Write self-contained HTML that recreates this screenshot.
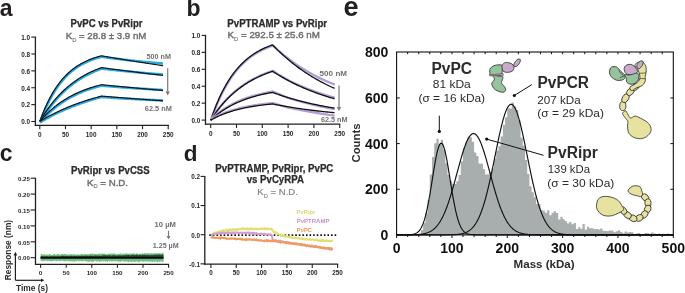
<!DOCTYPE html>
<html><head><meta charset="utf-8"><style>
html,body{margin:0;padding:0;background:#fff;}
svg{display:block;will-change:transform;font-family:"Liberation Sans", sans-serif;}
</style></head><body>
<svg width="685" height="293" viewBox="0 0 685 293">
<rect width="685" height="293" fill="#fff"/>
<text x="-0.3" y="15.6" font-size="23" font-weight="bold" fill="#231f20">a</text>
<text x="70.5" y="26.9" font-size="10.0" font-weight="bold" fill="#2b2b2b" textLength="72" lengthAdjust="spacingAndGlyphs" stroke="#2b2b2b" stroke-width="0.25">PvPC vs PvRipr</text>
<text x="65.7" y="39.1" font-size="9.7" fill="#6e6e6e" stroke="#6e6e6e" stroke-width="0.42" textLength="80.6" lengthAdjust="spacingAndGlyphs">K<tspan font-size="5.82" stroke-width="0.1" dy="2.9">D</tspan><tspan dy="-2.9"> = 28.8 ± 3.9 nM</tspan></text>
<line x1="35.40" y1="36.60" x2="35.40" y2="125.90" stroke="#231f20" stroke-width="1.3"/>
<line x1="31.30" y1="121.50" x2="35.40" y2="121.50" stroke="#231f20" stroke-width="1.1"/>
<text x="30.1" y="124.3" font-size="6.4" font-weight="bold" fill="#231f20" text-anchor="end">0.0</text>
<line x1="31.30" y1="104.62" x2="35.40" y2="104.62" stroke="#231f20" stroke-width="1.1"/>
<text x="30.1" y="107.42" font-size="6.4" font-weight="bold" fill="#231f20" text-anchor="end">0.2</text>
<line x1="31.30" y1="87.74" x2="35.40" y2="87.74" stroke="#231f20" stroke-width="1.1"/>
<text x="30.1" y="90.53999999999999" font-size="6.4" font-weight="bold" fill="#231f20" text-anchor="end">0.4</text>
<line x1="31.30" y1="70.86" x2="35.40" y2="70.86" stroke="#231f20" stroke-width="1.1"/>
<text x="30.1" y="73.65999999999998" font-size="6.4" font-weight="bold" fill="#231f20" text-anchor="end">0.6</text>
<line x1="31.30" y1="53.98" x2="35.40" y2="53.98" stroke="#231f20" stroke-width="1.1"/>
<text x="30.1" y="56.77999999999999" font-size="6.4" font-weight="bold" fill="#231f20" text-anchor="end">0.8</text>
<line x1="31.30" y1="37.10" x2="35.40" y2="37.10" stroke="#231f20" stroke-width="1.1"/>
<text x="30.1" y="39.89999999999999" font-size="6.4" font-weight="bold" fill="#231f20" text-anchor="end">1.0</text>
<line x1="34.80" y1="125.30" x2="169.00" y2="125.30" stroke="#231f20" stroke-width="1.3"/>
<line x1="39.80" y1="125.30" x2="39.80" y2="129.20" stroke="#231f20" stroke-width="1.1"/>
<text x="39.8" y="136.7" font-size="6.4" font-weight="bold" fill="#231f20" text-anchor="middle">0</text>
<line x1="65.48" y1="125.30" x2="65.48" y2="129.20" stroke="#231f20" stroke-width="1.1"/>
<text x="65.48" y="136.7" font-size="6.4" font-weight="bold" fill="#231f20" text-anchor="middle">50</text>
<line x1="91.16" y1="125.30" x2="91.16" y2="129.20" stroke="#231f20" stroke-width="1.1"/>
<text x="91.16" y="136.7" font-size="6.4" font-weight="bold" fill="#231f20" text-anchor="middle">100</text>
<line x1="116.84" y1="125.30" x2="116.84" y2="129.20" stroke="#231f20" stroke-width="1.1"/>
<text x="116.84" y="136.7" font-size="6.4" font-weight="bold" fill="#231f20" text-anchor="middle">150</text>
<line x1="142.52" y1="125.30" x2="142.52" y2="129.20" stroke="#231f20" stroke-width="1.1"/>
<text x="142.52" y="136.7" font-size="6.4" font-weight="bold" fill="#231f20" text-anchor="middle">200</text>
<line x1="168.20" y1="125.30" x2="168.20" y2="129.20" stroke="#231f20" stroke-width="1.1"/>
<text x="168.2" y="136.7" font-size="6.4" font-weight="bold" fill="#231f20" text-anchor="middle">250</text>
<path d="M40.10,122.35 L41.13,119.52 L42.15,116.80 L43.18,114.19 L44.21,111.68 L45.24,109.27 L46.26,106.95 L47.29,104.73 L48.32,102.59 L49.34,100.53 L50.37,98.56 L51.40,96.66 L52.43,94.84 L53.45,93.09 L54.48,91.41 L55.51,89.79 L56.54,88.24 L57.56,86.74 L58.59,85.31 L59.62,83.93 L60.64,82.61 L61.67,81.34 L62.70,80.12 L63.73,78.94 L64.75,77.82 L65.78,76.73 L66.81,75.69 L67.83,74.69 L68.86,73.73 L69.89,72.81 L70.92,71.92 L71.94,71.07 L72.97,70.25 L74.00,69.46 L75.02,68.71 L76.05,67.98 L77.08,67.28 L78.11,66.61 L79.13,65.97 L80.16,65.35 L81.19,64.75 L82.22,64.18 L83.24,63.63 L84.27,63.11 L85.30,62.60 L86.32,62.11 L87.35,61.64 L88.38,61.20 L89.41,60.76 L90.43,60.35 L91.46,59.95 L92.49,59.57 L93.51,59.20 L94.54,58.85 L95.57,58.51 L96.60,58.18 L97.62,57.87 L98.65,57.56 L99.68,57.28 L100.70,57.00 L101.73,56.73 L102.46,56.89 L103.49,57.05 L104.51,57.20 L105.54,57.35 L106.57,57.50 L107.60,57.64 L108.62,57.78 L109.65,57.92 L110.68,58.06 L111.70,58.20 L112.73,58.33 L113.76,58.46 L114.79,58.59 L115.81,58.72 L116.84,58.85 L117.87,58.98 L118.89,59.10 L119.92,59.23 L120.95,59.35 L121.98,59.47 L123.00,59.59 L124.03,59.71 L125.06,59.83 L126.08,59.95 L127.11,60.06 L128.14,60.18 L129.17,60.29 L130.19,60.41 L131.22,60.52 L132.25,60.63 L133.28,60.74 L134.30,60.85 L135.33,60.95 L136.36,61.06 L137.38,61.17 L138.41,61.27 L139.44,61.37 L140.47,61.48 L141.49,61.58 L142.52,61.68 L143.55,61.78 L144.57,61.88 L145.60,61.98 L146.63,62.08 L147.66,62.17 L148.68,62.27 L149.71,62.36 L150.74,62.46 L151.76,62.55 L152.79,62.64 L153.82,62.74 L154.85,62.83 L155.87,62.92 L156.90,63.01 L157.93,63.09 L158.96,63.18 L159.98,63.27 L161.01,63.35 L162.04,63.44 L163.06,63.52" fill="none" stroke="#27aae1" stroke-width="2.5" stroke-linejoin="round"/>
<path d="M39.80,121.40 L40.83,118.57 L41.85,115.85 L42.88,113.24 L43.91,110.73 L44.94,108.32 L45.96,106.00 L46.99,103.78 L48.02,101.64 L49.04,99.58 L50.07,97.61 L51.10,95.71 L52.13,93.89 L53.15,92.14 L54.18,90.46 L55.21,88.84 L56.24,87.29 L57.26,85.79 L58.29,84.36 L59.32,82.98 L60.34,81.66 L61.37,80.39 L62.40,79.17 L63.43,77.99 L64.45,76.87 L65.48,75.78 L66.51,74.74 L67.53,73.74 L68.56,72.78 L69.59,71.86 L70.62,70.97 L71.64,70.12 L72.67,69.30 L73.70,68.51 L74.72,67.76 L75.75,67.03 L76.78,66.33 L77.81,65.66 L78.83,65.02 L79.86,64.40 L80.89,63.80 L81.92,63.23 L82.94,62.68 L83.97,62.16 L85.00,61.65 L86.02,61.16 L87.05,60.69 L88.08,60.25 L89.11,59.81 L90.13,59.40 L91.16,59.00 L92.19,58.62 L93.21,58.25 L94.24,57.90 L95.27,57.56 L96.30,57.23 L97.32,56.92 L98.35,56.61 L99.38,56.33 L100.40,56.05 L101.43,55.78 L102.46,55.96 L103.49,56.14 L104.51,56.32 L105.54,56.50 L106.57,56.67 L107.60,56.85 L108.62,57.03 L109.65,57.20 L110.68,57.38 L111.70,57.55 L112.73,57.73 L113.76,57.90 L114.79,58.08 L115.81,58.25 L116.84,58.42 L117.87,58.59 L118.89,58.77 L119.92,58.94 L120.95,59.11 L121.98,59.28 L123.00,59.45 L124.03,59.62 L125.06,59.79 L126.08,59.96 L127.11,60.12 L128.14,60.29 L129.17,60.46 L130.19,60.62 L131.22,60.79 L132.25,60.96 L133.28,61.12 L134.30,61.29 L135.33,61.45 L136.36,61.62 L137.38,61.78 L138.41,61.94 L139.44,62.10 L140.47,62.27 L141.49,62.43 L142.52,62.59 L143.55,62.75 L144.57,62.91 L145.60,63.07 L146.63,63.23 L147.66,63.39 L148.68,63.55 L149.71,63.71 L150.74,63.86 L151.76,64.02 L152.79,64.18 L153.82,64.34 L154.85,64.49 L155.87,64.65 L156.90,64.80 L157.93,64.96 L158.96,65.11 L159.98,65.27 L161.01,65.42 L162.04,65.57 L163.06,65.72" fill="none" stroke="#111" stroke-width="1.15" stroke-linejoin="miter"/>
<path d="M40.10,122.35 L41.13,120.60 L42.15,118.90 L43.18,117.24 L44.21,115.62 L45.24,114.05 L46.26,112.51 L47.29,111.02 L48.32,109.56 L49.34,108.14 L50.37,106.75 L51.40,105.41 L52.43,104.09 L53.45,102.81 L54.48,101.57 L55.51,100.35 L56.54,99.17 L57.56,98.01 L58.59,96.89 L59.62,95.80 L60.64,94.73 L61.67,93.69 L62.70,92.68 L63.73,91.69 L64.75,90.73 L65.78,89.79 L66.81,88.88 L67.83,87.99 L68.86,87.12 L69.89,86.28 L70.92,85.46 L71.94,84.66 L72.97,83.87 L74.00,83.11 L75.02,82.37 L76.05,81.65 L77.08,80.95 L78.11,80.26 L79.13,79.59 L80.16,78.94 L81.19,78.31 L82.22,77.69 L83.24,77.09 L84.27,76.50 L85.30,75.93 L86.32,75.37 L87.35,74.83 L88.38,74.30 L89.41,73.79 L90.43,73.28 L91.46,72.80 L92.49,72.32 L93.51,71.85 L94.54,71.40 L95.57,70.96 L96.60,70.53 L97.62,70.11 L98.65,69.71 L99.68,69.31 L100.70,68.92 L101.73,68.55 L102.46,68.68 L103.49,68.80 L104.51,68.93 L105.54,69.05 L106.57,69.17 L107.60,69.29 L108.62,69.41 L109.65,69.53 L110.68,69.64 L111.70,69.75 L112.73,69.87 L113.76,69.98 L114.79,70.09 L115.81,70.20 L116.84,70.31 L117.87,70.42 L118.89,70.53 L119.92,70.63 L120.95,70.74 L121.98,70.85 L123.00,70.95 L124.03,71.05 L125.06,71.16 L126.08,71.26 L127.11,71.36 L128.14,71.46 L129.17,71.56 L130.19,71.66 L131.22,71.76 L132.25,71.86 L133.28,71.95 L134.30,72.05 L135.33,72.15 L136.36,72.24 L137.38,72.34 L138.41,72.43 L139.44,72.52 L140.47,72.62 L141.49,72.71 L142.52,72.80 L143.55,72.89 L144.57,72.98 L145.60,73.07 L146.63,73.16 L147.66,73.25 L148.68,73.34 L149.71,73.43 L150.74,73.51 L151.76,73.60 L152.79,73.69 L153.82,73.77 L154.85,73.86 L155.87,73.94 L156.90,74.02 L157.93,74.11 L158.96,74.19 L159.98,74.27 L161.01,74.35 L162.04,74.43 L163.06,74.52" fill="none" stroke="#27aae1" stroke-width="2.5" stroke-linejoin="round"/>
<path d="M39.80,121.40 L40.83,119.65 L41.85,117.95 L42.88,116.29 L43.91,114.67 L44.94,113.10 L45.96,111.56 L46.99,110.07 L48.02,108.61 L49.04,107.19 L50.07,105.80 L51.10,104.46 L52.13,103.14 L53.15,101.86 L54.18,100.62 L55.21,99.40 L56.24,98.22 L57.26,97.06 L58.29,95.94 L59.32,94.85 L60.34,93.78 L61.37,92.74 L62.40,91.73 L63.43,90.74 L64.45,89.78 L65.48,88.84 L66.51,87.93 L67.53,87.04 L68.56,86.17 L69.59,85.33 L70.62,84.51 L71.64,83.71 L72.67,82.92 L73.70,82.16 L74.72,81.42 L75.75,80.70 L76.78,80.00 L77.81,79.31 L78.83,78.64 L79.86,77.99 L80.89,77.36 L81.92,76.74 L82.94,76.14 L83.97,75.55 L85.00,74.98 L86.02,74.42 L87.05,73.88 L88.08,73.35 L89.11,72.84 L90.13,72.33 L91.16,71.85 L92.19,71.37 L93.21,70.90 L94.24,70.45 L95.27,70.01 L96.30,69.58 L97.32,69.16 L98.35,68.76 L99.38,68.36 L100.40,67.97 L101.43,67.59 L102.46,67.74 L103.49,67.88 L104.51,68.02 L105.54,68.16 L106.57,68.29 L107.60,68.43 L108.62,68.57 L109.65,68.71 L110.68,68.85 L111.70,68.99 L112.73,69.12 L113.76,69.26 L114.79,69.40 L115.81,69.53 L116.84,69.67 L117.87,69.80 L118.89,69.94 L119.92,70.07 L120.95,70.21 L121.98,70.34 L123.00,70.47 L124.03,70.61 L125.06,70.74 L126.08,70.87 L127.11,71.00 L128.14,71.13 L129.17,71.27 L130.19,71.40 L131.22,71.53 L132.25,71.66 L133.28,71.79 L134.30,71.92 L135.33,72.05 L136.36,72.18 L137.38,72.31 L138.41,72.43 L139.44,72.56 L140.47,72.69 L141.49,72.82 L142.52,72.94 L143.55,73.07 L144.57,73.20 L145.60,73.32 L146.63,73.45 L147.66,73.57 L148.68,73.70 L149.71,73.82 L150.74,73.95 L151.76,74.07 L152.79,74.20 L153.82,74.32 L154.85,74.44 L155.87,74.56 L156.90,74.69 L157.93,74.81 L158.96,74.93 L159.98,75.05 L161.01,75.17 L162.04,75.29 L163.06,75.41" fill="none" stroke="#111" stroke-width="1.15" stroke-linejoin="miter"/>
<path d="M40.10,122.35 L41.13,121.16 L42.15,119.99 L43.18,118.86 L44.21,117.76 L45.24,116.68 L46.26,115.64 L47.29,114.61 L48.32,113.62 L49.34,112.65 L50.37,111.71 L51.40,110.79 L52.43,109.89 L53.45,109.02 L54.48,108.17 L55.51,107.34 L56.54,106.53 L57.56,105.74 L58.59,104.97 L59.62,104.23 L60.64,103.50 L61.67,102.79 L62.70,102.10 L63.73,101.43 L64.75,100.77 L65.78,100.13 L66.81,99.51 L67.83,98.90 L68.86,98.31 L69.89,97.73 L70.92,97.17 L71.94,96.62 L72.97,96.09 L74.00,95.57 L75.02,95.07 L76.05,94.57 L77.08,94.09 L78.11,93.63 L79.13,93.17 L80.16,92.73 L81.19,92.29 L82.22,91.87 L83.24,91.46 L84.27,91.06 L85.30,90.67 L86.32,90.29 L87.35,89.92 L88.38,89.56 L89.41,89.21 L90.43,88.86 L91.46,88.53 L92.49,88.21 L93.51,87.89 L94.54,87.58 L95.57,87.28 L96.60,86.99 L97.62,86.70 L98.65,86.42 L99.68,86.15 L100.70,85.89 L101.73,85.63 L102.46,85.73 L103.49,85.82 L104.51,85.91 L105.54,86.00 L106.57,86.09 L107.60,86.18 L108.62,86.27 L109.65,86.35 L110.68,86.44 L111.70,86.52 L112.73,86.61 L113.76,86.69 L114.79,86.77 L115.81,86.85 L116.84,86.93 L117.87,87.01 L118.89,87.09 L119.92,87.17 L120.95,87.24 L121.98,87.32 L123.00,87.40 L124.03,87.47 L125.06,87.55 L126.08,87.62 L127.11,87.69 L128.14,87.77 L129.17,87.84 L130.19,87.91 L131.22,87.98 L132.25,88.05 L133.28,88.13 L134.30,88.20 L135.33,88.26 L136.36,88.33 L137.38,88.40 L138.41,88.47 L139.44,88.54 L140.47,88.60 L141.49,88.67 L142.52,88.74 L143.55,88.80 L144.57,88.87 L145.60,88.93 L146.63,89.00 L147.66,89.06 L148.68,89.12 L149.71,89.18 L150.74,89.25 L151.76,89.31 L152.79,89.37 L153.82,89.43 L154.85,89.49 L155.87,89.55 L156.90,89.61 L157.93,89.67 L158.96,89.73 L159.98,89.79 L161.01,89.85 L162.04,89.90 L163.06,89.96" fill="none" stroke="#27aae1" stroke-width="2.5" stroke-linejoin="round"/>
<path d="M39.80,121.40 L40.83,120.21 L41.85,119.04 L42.88,117.91 L43.91,116.81 L44.94,115.73 L45.96,114.69 L46.99,113.66 L48.02,112.67 L49.04,111.70 L50.07,110.76 L51.10,109.84 L52.13,108.94 L53.15,108.07 L54.18,107.22 L55.21,106.39 L56.24,105.58 L57.26,104.79 L58.29,104.02 L59.32,103.28 L60.34,102.55 L61.37,101.84 L62.40,101.15 L63.43,100.48 L64.45,99.82 L65.48,99.18 L66.51,98.56 L67.53,97.95 L68.56,97.36 L69.59,96.78 L70.62,96.22 L71.64,95.67 L72.67,95.14 L73.70,94.62 L74.72,94.12 L75.75,93.62 L76.78,93.14 L77.81,92.68 L78.83,92.22 L79.86,91.78 L80.89,91.34 L81.92,90.92 L82.94,90.51 L83.97,90.11 L85.00,89.72 L86.02,89.34 L87.05,88.97 L88.08,88.61 L89.11,88.26 L90.13,87.91 L91.16,87.58 L92.19,87.26 L93.21,86.94 L94.24,86.63 L95.27,86.33 L96.30,86.04 L97.32,85.75 L98.35,85.47 L99.38,85.20 L100.40,84.94 L101.43,84.68 L102.46,84.78 L103.49,84.89 L104.51,84.99 L105.54,85.10 L106.57,85.20 L107.60,85.30 L108.62,85.41 L109.65,85.51 L110.68,85.61 L111.70,85.71 L112.73,85.82 L113.76,85.92 L114.79,86.02 L115.81,86.12 L116.84,86.22 L117.87,86.32 L118.89,86.42 L119.92,86.52 L120.95,86.62 L121.98,86.72 L123.00,86.82 L124.03,86.92 L125.06,87.01 L126.08,87.11 L127.11,87.21 L128.14,87.31 L129.17,87.40 L130.19,87.50 L131.22,87.60 L132.25,87.69 L133.28,87.79 L134.30,87.89 L135.33,87.98 L136.36,88.08 L137.38,88.17 L138.41,88.27 L139.44,88.36 L140.47,88.45 L141.49,88.55 L142.52,88.64 L143.55,88.74 L144.57,88.83 L145.60,88.92 L146.63,89.01 L147.66,89.11 L148.68,89.20 L149.71,89.29 L150.74,89.38 L151.76,89.47 L152.79,89.56 L153.82,89.65 L154.85,89.75 L155.87,89.84 L156.90,89.93 L157.93,90.02 L158.96,90.10 L159.98,90.19 L161.01,90.28 L162.04,90.37 L163.06,90.46" fill="none" stroke="#111" stroke-width="1.15" stroke-linejoin="miter"/>
<path d="M40.10,122.35 L41.13,121.73 L42.15,121.12 L43.18,120.52 L44.21,119.92 L45.24,119.34 L46.26,118.76 L47.29,118.19 L48.32,117.63 L49.34,117.07 L50.37,116.53 L51.40,115.99 L52.43,115.46 L53.45,114.93 L54.48,114.42 L55.51,113.91 L56.54,113.41 L57.56,112.91 L58.59,112.42 L59.62,111.94 L60.64,111.46 L61.67,111.00 L62.70,110.53 L63.73,110.08 L64.75,109.63 L65.78,109.19 L66.81,108.75 L67.83,108.32 L68.86,107.90 L69.89,107.48 L70.92,107.06 L71.94,106.66 L72.97,106.26 L74.00,105.86 L75.02,105.47 L76.05,105.08 L77.08,104.70 L78.11,104.33 L79.13,103.96 L80.16,103.60 L81.19,103.24 L82.22,102.88 L83.24,102.53 L84.27,102.19 L85.30,101.85 L86.32,101.52 L87.35,101.19 L88.38,100.86 L89.41,100.54 L90.43,100.22 L91.46,99.91 L92.49,99.60 L93.51,99.30 L94.54,99.00 L95.57,98.71 L96.60,98.42 L97.62,98.13 L98.65,97.85 L99.68,97.57 L100.70,97.29 L101.73,97.02 L102.46,97.10 L103.49,97.18 L104.51,97.25 L105.54,97.33 L106.57,97.40 L107.60,97.47 L108.62,97.55 L109.65,97.61 L110.68,97.68 L111.70,97.75 L112.73,97.82 L113.76,97.89 L114.79,97.95 L115.81,98.02 L116.84,98.08 L117.87,98.15 L118.89,98.21 L119.92,98.27 L120.95,98.33 L121.98,98.39 L123.00,98.45 L124.03,98.52 L125.06,98.57 L126.08,98.63 L127.11,98.69 L128.14,98.75 L129.17,98.81 L130.19,98.86 L131.22,98.92 L132.25,98.98 L133.28,99.03 L134.30,99.09 L135.33,99.14 L136.36,99.19 L137.38,99.25 L138.41,99.30 L139.44,99.35 L140.47,99.40 L141.49,99.45 L142.52,99.51 L143.55,99.56 L144.57,99.61 L145.60,99.65 L146.63,99.70 L147.66,99.75 L148.68,99.80 L149.71,99.85 L150.74,99.90 L151.76,99.94 L152.79,99.99 L153.82,100.03 L154.85,100.08 L155.87,100.13 L156.90,100.17 L157.93,100.21 L158.96,100.26 L159.98,100.30 L161.01,100.34 L162.04,100.39 L163.06,100.43" fill="none" stroke="#27aae1" stroke-width="2.5" stroke-linejoin="round"/>
<path d="M39.80,121.40 L40.83,120.78 L41.85,120.17 L42.88,119.57 L43.91,118.97 L44.94,118.39 L45.96,117.81 L46.99,117.24 L48.02,116.68 L49.04,116.12 L50.07,115.58 L51.10,115.04 L52.13,114.51 L53.15,113.98 L54.18,113.47 L55.21,112.96 L56.24,112.46 L57.26,111.96 L58.29,111.47 L59.32,110.99 L60.34,110.51 L61.37,110.05 L62.40,109.58 L63.43,109.13 L64.45,108.68 L65.48,108.24 L66.51,107.80 L67.53,107.37 L68.56,106.95 L69.59,106.53 L70.62,106.11 L71.64,105.71 L72.67,105.31 L73.70,104.91 L74.72,104.52 L75.75,104.13 L76.78,103.75 L77.81,103.38 L78.83,103.01 L79.86,102.65 L80.89,102.29 L81.92,101.93 L82.94,101.58 L83.97,101.24 L85.00,100.90 L86.02,100.57 L87.05,100.24 L88.08,99.91 L89.11,99.59 L90.13,99.27 L91.16,98.96 L92.19,98.65 L93.21,98.35 L94.24,98.05 L95.27,97.76 L96.30,97.47 L97.32,97.18 L98.35,96.90 L99.38,96.62 L100.40,96.34 L101.43,96.07 L102.46,96.16 L103.49,96.25 L104.51,96.33 L105.54,96.42 L106.57,96.51 L107.60,96.59 L108.62,96.68 L109.65,96.76 L110.68,96.85 L111.70,96.93 L112.73,97.02 L113.76,97.10 L114.79,97.19 L115.81,97.27 L116.84,97.35 L117.87,97.44 L118.89,97.52 L119.92,97.60 L120.95,97.69 L121.98,97.77 L123.00,97.85 L124.03,97.93 L125.06,98.01 L126.08,98.09 L127.11,98.17 L128.14,98.25 L129.17,98.33 L130.19,98.41 L131.22,98.49 L132.25,98.57 L133.28,98.65 L134.30,98.73 L135.33,98.81 L136.36,98.89 L137.38,98.97 L138.41,99.04 L139.44,99.12 L140.47,99.20 L141.49,99.28 L142.52,99.35 L143.55,99.43 L144.57,99.50 L145.60,99.58 L146.63,99.66 L147.66,99.73 L148.68,99.81 L149.71,99.88 L150.74,99.96 L151.76,100.03 L152.79,100.10 L153.82,100.18 L154.85,100.25 L155.87,100.32 L156.90,100.40 L157.93,100.47 L158.96,100.54 L159.98,100.61 L161.01,100.69 L162.04,100.76 L163.06,100.83" fill="none" stroke="#111" stroke-width="1.15" stroke-linejoin="miter"/>
<text x="146.5" y="58.5" font-size="7.6" font-weight="bold" fill="#6f6f6f" textLength="24.5" lengthAdjust="spacingAndGlyphs">500 nM</text>
<text x="144.8" y="111.1" font-size="7.6" font-weight="bold" fill="#6f6f6f" textLength="27" lengthAdjust="spacingAndGlyphs">62.5 nM</text>
<line x1="167.70" y1="68.20" x2="167.70" y2="93.00" stroke="#7a7a7a" stroke-width="1.2"/>
<path d="M165.5,91.4 L169.9,91.4 L167.7,95.4 Z" fill="#7a7a7a" stroke="none" stroke-width="1.0"/>
<text x="186.5" y="15.8" font-size="23" font-weight="bold" fill="#231f20">b</text>
<text x="227.3" y="26.5" font-size="10.0" font-weight="bold" fill="#2b2b2b" textLength="99.8" lengthAdjust="spacingAndGlyphs" stroke="#2b2b2b" stroke-width="0.25">PvPTRAMP vs PvRipr</text>
<text x="227.5" y="37.7" font-size="9.7" fill="#6e6e6e" stroke="#6e6e6e" stroke-width="0.42" textLength="92.4" lengthAdjust="spacingAndGlyphs">K<tspan font-size="5.82" stroke-width="0.1" dy="2.9">D</tspan><tspan dy="-2.9"> = 292.5 ± 25.6 nM</tspan></text>
<line x1="205.50" y1="34.80" x2="205.50" y2="124.80" stroke="#231f20" stroke-width="1.3"/>
<line x1="201.60" y1="120.10" x2="205.50" y2="120.10" stroke="#231f20" stroke-width="1.1"/>
<text x="200.4" y="122.89999999999999" font-size="6.4" font-weight="bold" fill="#231f20" text-anchor="end">0.0</text>
<line x1="201.60" y1="103.16" x2="205.50" y2="103.16" stroke="#231f20" stroke-width="1.1"/>
<text x="200.4" y="105.96" font-size="6.4" font-weight="bold" fill="#231f20" text-anchor="end">0.2</text>
<line x1="201.60" y1="86.22" x2="205.50" y2="86.22" stroke="#231f20" stroke-width="1.1"/>
<text x="200.4" y="89.02" font-size="6.4" font-weight="bold" fill="#231f20" text-anchor="end">0.4</text>
<line x1="201.60" y1="69.28" x2="205.50" y2="69.28" stroke="#231f20" stroke-width="1.1"/>
<text x="200.4" y="72.07999999999998" font-size="6.4" font-weight="bold" fill="#231f20" text-anchor="end">0.6</text>
<line x1="201.60" y1="52.34" x2="205.50" y2="52.34" stroke="#231f20" stroke-width="1.1"/>
<text x="200.4" y="55.139999999999986" font-size="6.4" font-weight="bold" fill="#231f20" text-anchor="end">0.8</text>
<line x1="201.60" y1="35.40" x2="205.50" y2="35.40" stroke="#231f20" stroke-width="1.1"/>
<text x="200.4" y="38.19999999999999" font-size="6.4" font-weight="bold" fill="#231f20" text-anchor="end">1.0</text>
<line x1="204.90" y1="124.20" x2="340.30" y2="124.20" stroke="#231f20" stroke-width="1.3"/>
<line x1="210.70" y1="124.20" x2="210.70" y2="128.00" stroke="#231f20" stroke-width="1.1"/>
<text x="210.7" y="135.6" font-size="6.4" font-weight="bold" fill="#231f20" text-anchor="middle">0</text>
<line x1="236.50" y1="124.20" x2="236.50" y2="128.00" stroke="#231f20" stroke-width="1.1"/>
<text x="236.5" y="135.6" font-size="6.4" font-weight="bold" fill="#231f20" text-anchor="middle">50</text>
<line x1="262.30" y1="124.20" x2="262.30" y2="128.00" stroke="#231f20" stroke-width="1.1"/>
<text x="262.3" y="135.6" font-size="6.4" font-weight="bold" fill="#231f20" text-anchor="middle">100</text>
<line x1="288.10" y1="124.20" x2="288.10" y2="128.00" stroke="#231f20" stroke-width="1.1"/>
<text x="288.1" y="135.6" font-size="6.4" font-weight="bold" fill="#231f20" text-anchor="middle">150</text>
<line x1="313.90" y1="124.20" x2="313.90" y2="128.00" stroke="#231f20" stroke-width="1.1"/>
<text x="313.9" y="135.6" font-size="6.4" font-weight="bold" fill="#231f20" text-anchor="middle">200</text>
<line x1="339.70" y1="124.20" x2="339.70" y2="128.00" stroke="#231f20" stroke-width="1.1"/>
<text x="339.7" y="135.6" font-size="6.4" font-weight="bold" fill="#231f20" text-anchor="middle">250</text>
<path d="M210.90,120.80 L211.93,117.79 L212.96,114.89 L214.00,112.10 L215.03,109.40 L216.06,106.79 L217.09,104.28 L218.12,101.86 L219.16,99.52 L220.19,97.27 L221.22,95.09 L222.25,93.00 L223.28,90.97 L224.32,89.02 L225.35,87.14 L226.38,85.32 L227.41,83.57 L228.44,81.88 L229.48,80.25 L230.51,78.68 L231.54,77.16 L232.57,75.69 L233.60,74.28 L234.64,72.92 L235.67,71.61 L236.70,70.34 L237.73,69.12 L238.76,67.94 L239.80,66.80 L240.83,65.70 L241.86,64.64 L242.89,63.62 L243.92,62.64 L244.96,61.69 L245.99,60.77 L247.02,59.89 L248.05,59.04 L249.08,58.21 L250.12,57.42 L251.15,56.65 L252.18,55.92 L253.21,55.20 L254.24,54.52 L255.28,53.85 L256.31,53.21 L257.34,52.60 L258.37,52.00 L259.40,51.43 L260.44,50.87 L261.47,50.34 L262.50,49.82 L263.53,49.33 L264.56,48.85 L265.60,48.39 L266.63,47.94 L267.66,47.51 L268.69,47.09 L269.72,46.69 L270.76,46.31 L271.79,45.93 L272.82,45.58 L273.85,46.54 L274.88,47.49 L275.92,48.42 L276.95,49.34 L277.98,50.25 L279.01,51.14 L280.04,52.02 L281.08,52.88 L282.11,53.73 L283.14,54.56 L284.17,55.38 L285.20,56.19 L286.24,56.98 L287.27,57.76 L288.30,58.53 L289.33,59.34 L290.36,60.13 L291.40,60.90 L292.43,61.67 L293.46,62.42 L294.49,63.17 L295.52,63.90 L296.56,64.62 L297.59,65.33 L298.62,66.02 L299.65,66.71 L300.68,67.39 L301.72,68.05 L302.75,68.71 L303.78,69.35 L304.81,69.99 L305.84,70.61 L306.88,71.22 L307.91,71.83 L308.94,72.42 L309.97,73.01 L311.00,73.59 L312.04,74.15 L313.07,74.71 L314.10,75.26 L315.13,75.80 L316.16,76.34 L317.20,76.86 L318.23,77.37 L319.26,77.88 L320.29,78.38 L321.32,78.87 L322.36,79.35 L323.39,79.83 L324.42,80.30 L325.45,80.76 L326.48,81.21 L327.52,81.65 L328.55,82.09 L329.58,82.52 L330.61,82.94 L331.64,83.36 L332.68,83.77 L333.71,84.17 L334.74,84.57" fill="none" stroke="#b39dd4" stroke-width="2.3" stroke-linejoin="round"/>
<path d="M210.70,120.10 L211.73,117.09 L212.76,114.19 L213.80,111.40 L214.83,108.70 L215.86,106.09 L216.89,103.58 L217.92,101.16 L218.96,98.82 L219.99,96.57 L221.02,94.39 L222.05,92.30 L223.08,90.27 L224.12,88.32 L225.15,86.44 L226.18,84.62 L227.21,82.87 L228.24,81.18 L229.28,79.55 L230.31,77.98 L231.34,76.46 L232.37,74.99 L233.40,73.58 L234.44,72.22 L235.47,70.91 L236.50,69.64 L237.53,68.42 L238.56,67.24 L239.60,66.10 L240.63,65.00 L241.66,63.94 L242.69,62.92 L243.72,61.94 L244.76,60.99 L245.79,60.07 L246.82,59.19 L247.85,58.34 L248.88,57.51 L249.92,56.72 L250.95,55.95 L251.98,55.22 L253.01,54.50 L254.04,53.82 L255.08,53.15 L256.11,52.51 L257.14,51.90 L258.17,51.30 L259.20,50.73 L260.24,50.17 L261.27,49.64 L262.30,49.12 L263.33,48.63 L264.36,48.15 L265.40,47.69 L266.43,47.24 L267.46,46.81 L268.49,46.39 L269.52,45.99 L270.56,45.61 L271.59,45.23 L272.62,44.88 L273.65,45.95 L274.68,47.01 L275.72,48.06 L276.75,49.09 L277.78,50.10 L278.81,51.10 L279.84,52.09 L280.88,53.06 L281.91,54.02 L282.94,54.96 L283.97,55.89 L285.00,56.81 L286.04,57.72 L287.07,58.61 L288.10,59.49 L289.13,60.36 L290.16,61.21 L291.20,62.05 L292.23,62.88 L293.26,63.70 L294.29,64.51 L295.32,65.30 L296.36,66.08 L297.39,66.86 L298.42,67.62 L299.45,68.37 L300.48,69.11 L301.52,69.84 L302.55,70.55 L303.58,71.26 L304.61,71.96 L305.64,72.65 L306.68,73.33 L307.71,74.00 L308.74,74.66 L309.77,75.31 L310.80,75.95 L311.84,76.58 L312.87,77.20 L313.90,77.81 L314.93,78.42 L315.96,79.01 L317.00,79.60 L318.03,80.18 L319.06,80.75 L320.09,81.31 L321.12,81.87 L322.16,82.41 L323.19,82.95 L324.22,83.48 L325.25,84.01 L326.28,84.52 L327.32,85.03 L328.35,85.53 L329.38,86.03 L330.41,86.51 L331.44,87.00 L332.48,87.47 L333.51,87.93 L334.54,88.39" fill="none" stroke="#111" stroke-width="1.3"/>
<path d="M210.90,119.60 L211.93,118.01 L212.96,116.47 L214.00,114.97 L215.03,113.50 L216.06,112.07 L217.09,110.68 L218.12,109.32 L219.16,108.00 L220.19,106.71 L221.22,105.46 L222.25,104.24 L223.28,103.04 L224.32,101.88 L225.35,100.75 L226.38,99.65 L227.41,98.58 L228.44,97.53 L229.48,96.51 L230.51,95.52 L231.54,94.55 L232.57,93.61 L233.60,92.69 L234.64,91.80 L235.67,90.93 L236.70,90.08 L237.73,89.25 L238.76,88.44 L239.80,87.66 L240.83,86.89 L241.86,86.15 L242.89,85.42 L243.92,84.71 L244.96,84.02 L245.99,83.35 L247.02,82.69 L248.05,82.06 L249.08,81.43 L250.12,80.83 L251.15,80.24 L252.18,79.66 L253.21,79.10 L254.24,78.56 L255.28,78.02 L256.31,77.51 L257.34,77.00 L258.37,76.51 L259.40,76.03 L260.44,75.56 L261.47,75.11 L262.50,74.66 L263.53,74.23 L264.56,73.81 L265.60,73.40 L266.63,73.00 L267.66,72.61 L268.69,72.23 L269.72,71.86 L270.76,71.50 L271.79,71.15 L272.82,70.81 L273.85,71.50 L274.88,72.17 L275.92,72.84 L276.95,73.50 L277.98,74.14 L279.01,74.79 L280.04,75.42 L281.08,76.04 L282.11,76.66 L283.14,77.26 L284.17,77.86 L285.20,78.45 L286.24,79.04 L287.27,79.61 L288.30,80.18 L289.33,80.70 L290.36,81.22 L291.40,81.74 L292.43,82.24 L293.46,82.74 L294.49,83.23 L295.52,83.71 L296.56,84.19 L297.59,84.66 L298.62,85.12 L299.65,85.58 L300.68,86.03 L301.72,86.47 L302.75,86.91 L303.78,87.34 L304.81,87.76 L305.84,88.18 L306.88,88.60 L307.91,89.00 L308.94,89.40 L309.97,89.80 L311.00,90.19 L312.04,90.57 L313.07,90.95 L314.10,91.33 L315.13,91.69 L316.16,92.06 L317.20,92.42 L318.23,92.77 L319.26,93.11 L320.29,93.46 L321.32,93.79 L322.36,94.13 L323.39,94.46 L324.42,94.78 L325.45,95.10 L326.48,95.41 L327.52,95.72 L328.55,96.02 L329.58,96.32 L330.61,96.62 L331.64,96.91 L332.68,97.20 L333.71,97.48 L334.74,97.76" fill="none" stroke="#b39dd4" stroke-width="2.3" stroke-linejoin="round"/>
<path d="M210.70,120.10 L211.73,118.51 L212.76,116.97 L213.80,115.47 L214.83,114.00 L215.86,112.57 L216.89,111.18 L217.92,109.82 L218.96,108.50 L219.99,107.21 L221.02,105.96 L222.05,104.74 L223.08,103.54 L224.12,102.38 L225.15,101.25 L226.18,100.15 L227.21,99.08 L228.24,98.03 L229.28,97.01 L230.31,96.02 L231.34,95.05 L232.37,94.11 L233.40,93.19 L234.44,92.30 L235.47,91.43 L236.50,90.58 L237.53,89.75 L238.56,88.94 L239.60,88.16 L240.63,87.39 L241.66,86.65 L242.69,85.92 L243.72,85.21 L244.76,84.52 L245.79,83.85 L246.82,83.19 L247.85,82.56 L248.88,81.93 L249.92,81.33 L250.95,80.74 L251.98,80.16 L253.01,79.60 L254.04,79.06 L255.08,78.52 L256.11,78.01 L257.14,77.50 L258.17,77.01 L259.20,76.53 L260.24,76.06 L261.27,75.61 L262.30,75.16 L263.33,74.73 L264.36,74.31 L265.40,73.90 L266.43,73.50 L267.46,73.11 L268.49,72.73 L269.52,72.36 L270.56,72.00 L271.59,71.65 L272.62,71.31 L273.65,71.98 L274.68,72.64 L275.72,73.29 L276.75,73.93 L277.78,74.56 L278.81,75.19 L279.84,75.80 L280.88,76.41 L281.91,77.01 L282.94,77.60 L283.97,78.18 L285.00,78.76 L286.04,79.32 L287.07,79.88 L288.10,80.43 L289.13,80.98 L290.16,81.51 L291.20,82.04 L292.23,82.56 L293.26,83.08 L294.29,83.58 L295.32,84.09 L296.36,84.58 L297.39,85.07 L298.42,85.55 L299.45,86.02 L300.48,86.49 L301.52,86.95 L302.55,87.40 L303.58,87.85 L304.61,88.29 L305.64,88.73 L306.68,89.16 L307.71,89.58 L308.74,90.00 L309.77,90.41 L310.80,90.82 L311.84,91.22 L312.87,91.62 L313.90,92.01 L314.93,92.39 L315.96,92.77 L317.00,93.15 L318.03,93.52 L319.06,93.88 L320.09,94.24 L321.12,94.59 L322.16,94.94 L323.19,95.29 L324.22,95.63 L325.25,95.96 L326.28,96.29 L327.32,96.62 L328.35,96.94 L329.38,97.26 L330.41,97.57 L331.44,97.88 L332.48,98.19 L333.51,98.49 L334.54,98.78" fill="none" stroke="#111" stroke-width="1.3"/>
<path d="M210.90,119.20 L211.93,118.26 L212.96,117.35 L214.00,116.46 L215.03,115.59 L216.06,114.75 L217.09,113.93 L218.12,113.14 L219.16,112.37 L220.19,111.61 L221.22,110.88 L222.25,110.17 L223.28,109.48 L224.32,108.81 L225.35,108.16 L226.38,107.52 L227.41,106.90 L228.44,106.30 L229.48,105.72 L230.51,105.15 L231.54,104.60 L232.57,104.06 L233.60,103.54 L234.64,103.03 L235.67,102.54 L236.70,102.05 L237.73,101.59 L238.76,101.13 L239.80,100.69 L240.83,100.26 L241.86,99.85 L242.89,99.44 L243.92,99.04 L244.96,98.66 L245.99,98.29 L247.02,97.92 L248.05,97.57 L249.08,97.23 L250.12,96.89 L251.15,96.57 L252.18,96.25 L253.21,95.95 L254.24,95.65 L255.28,95.36 L256.31,95.08 L257.34,94.80 L258.37,94.54 L259.40,94.28 L260.44,94.02 L261.47,93.78 L262.50,93.54 L263.53,93.31 L264.56,93.08 L265.60,92.86 L266.63,92.65 L267.66,92.44 L268.69,92.24 L269.72,92.05 L270.76,91.86 L271.79,91.67 L272.82,91.49 L273.85,91.95 L274.88,92.41 L275.92,92.86 L276.95,93.31 L277.98,93.75 L279.01,94.18 L280.04,94.62 L281.08,95.04 L282.11,95.46 L283.14,95.88 L284.17,96.29 L285.20,96.70 L286.24,97.10 L287.27,97.50 L288.30,97.89 L289.33,98.22 L290.36,98.55 L291.40,98.87 L292.43,99.18 L293.46,99.50 L294.49,99.81 L295.52,100.11 L296.56,100.41 L297.59,100.71 L298.62,101.00 L299.65,101.29 L300.68,101.57 L301.72,101.85 L302.75,102.13 L303.78,102.40 L304.81,102.67 L305.84,102.94 L306.88,103.20 L307.91,103.46 L308.94,103.72 L309.97,103.97 L311.00,104.22 L312.04,104.47 L313.07,104.71 L314.10,104.95 L315.13,105.19 L316.16,105.42 L317.20,105.65 L318.23,105.88 L319.26,106.11 L320.29,106.33 L321.32,106.55 L322.36,106.76 L323.39,106.98 L324.42,107.19 L325.45,107.40 L326.48,107.60 L327.52,107.81 L328.55,108.01 L329.58,108.20 L330.61,108.40 L331.64,108.59 L332.68,108.78 L333.71,108.97 L334.74,109.16" fill="none" stroke="#b39dd4" stroke-width="2.3" stroke-linejoin="round"/>
<path d="M210.70,120.10 L211.73,119.16 L212.76,118.25 L213.80,117.36 L214.83,116.49 L215.86,115.65 L216.89,114.83 L217.92,114.04 L218.96,113.27 L219.99,112.51 L221.02,111.78 L222.05,111.07 L223.08,110.38 L224.12,109.71 L225.15,109.06 L226.18,108.42 L227.21,107.80 L228.24,107.20 L229.28,106.62 L230.31,106.05 L231.34,105.50 L232.37,104.96 L233.40,104.44 L234.44,103.93 L235.47,103.44 L236.50,102.95 L237.53,102.49 L238.56,102.03 L239.60,101.59 L240.63,101.16 L241.66,100.75 L242.69,100.34 L243.72,99.94 L244.76,99.56 L245.79,99.19 L246.82,98.82 L247.85,98.47 L248.88,98.13 L249.92,97.79 L250.95,97.47 L251.98,97.15 L253.01,96.85 L254.04,96.55 L255.08,96.26 L256.11,95.98 L257.14,95.70 L258.17,95.44 L259.20,95.18 L260.24,94.92 L261.27,94.68 L262.30,94.44 L263.33,94.21 L264.36,93.98 L265.40,93.76 L266.43,93.55 L267.46,93.34 L268.49,93.14 L269.52,92.95 L270.56,92.76 L271.59,92.57 L272.62,92.39 L273.65,92.78 L274.68,93.16 L275.72,93.53 L276.75,93.90 L277.78,94.26 L278.81,94.62 L279.84,94.98 L280.88,95.33 L281.91,95.67 L282.94,96.01 L283.97,96.34 L285.00,96.68 L286.04,97.00 L287.07,97.32 L288.10,97.64 L289.13,97.95 L290.16,98.26 L291.20,98.56 L292.23,98.86 L293.26,99.16 L294.29,99.45 L295.32,99.74 L296.36,100.02 L297.39,100.30 L298.42,100.57 L299.45,100.84 L300.48,101.11 L301.52,101.38 L302.55,101.64 L303.58,101.89 L304.61,102.15 L305.64,102.40 L306.68,102.64 L307.71,102.88 L308.74,103.12 L309.77,103.36 L310.80,103.59 L311.84,103.82 L312.87,104.05 L313.90,104.27 L314.93,104.49 L315.96,104.71 L317.00,104.92 L318.03,105.13 L319.06,105.34 L320.09,105.55 L321.12,105.75 L322.16,105.95 L323.19,106.15 L324.22,106.34 L325.25,106.53 L326.28,106.72 L327.32,106.91 L328.35,107.09 L329.38,107.27 L330.41,107.45 L331.44,107.62 L332.48,107.80 L333.51,107.97 L334.54,108.14" fill="none" stroke="#111" stroke-width="1.3"/>
<path d="M210.90,119.20 L211.93,118.63 L212.96,118.07 L214.00,117.53 L215.03,117.01 L216.06,116.50 L217.09,116.01 L218.12,115.54 L219.16,115.07 L220.19,114.62 L221.22,114.19 L222.25,113.76 L223.28,113.35 L224.32,112.95 L225.35,112.56 L226.38,112.19 L227.41,111.82 L228.44,111.47 L229.48,111.13 L230.51,110.79 L231.54,110.47 L232.57,110.16 L233.60,109.85 L234.64,109.56 L235.67,109.27 L236.70,108.99 L237.73,108.72 L238.76,108.46 L239.80,108.20 L240.83,107.96 L241.86,107.72 L242.89,107.49 L243.92,107.26 L244.96,107.04 L245.99,106.83 L247.02,106.62 L248.05,106.42 L249.08,106.23 L250.12,106.04 L251.15,105.86 L252.18,105.68 L253.21,105.51 L254.24,105.34 L255.28,105.18 L256.31,105.02 L257.34,104.87 L258.37,104.72 L259.40,104.58 L260.44,104.44 L261.47,104.30 L262.50,104.17 L263.53,104.04 L264.56,103.92 L265.60,103.80 L266.63,103.68 L267.66,103.57 L268.69,103.46 L269.72,103.35 L270.76,103.25 L271.79,103.15 L272.82,103.05 L273.85,103.37 L274.88,103.68 L275.92,104.00 L276.95,104.31 L277.98,104.61 L279.01,104.92 L280.04,105.22 L281.08,105.52 L282.11,105.82 L283.14,106.11 L284.17,106.41 L285.20,106.70 L286.24,106.99 L287.27,107.27 L288.30,107.55 L289.33,107.78 L290.36,108.00 L291.40,108.21 L292.43,108.43 L293.46,108.64 L294.49,108.85 L295.52,109.06 L296.56,109.26 L297.59,109.47 L298.62,109.67 L299.65,109.87 L300.68,110.07 L301.72,110.27 L302.75,110.46 L303.78,110.65 L304.81,110.84 L305.84,111.03 L306.88,111.22 L307.91,111.41 L308.94,111.59 L309.97,111.77 L311.00,111.95 L312.04,112.13 L313.07,112.31 L314.10,112.48 L315.13,112.66 L316.16,112.83 L317.20,113.00 L318.23,113.17 L319.26,113.33 L320.29,113.50 L321.32,113.66 L322.36,113.83 L323.39,113.99 L324.42,114.15 L325.45,114.31 L326.48,114.46 L327.52,114.62 L328.55,114.77 L329.58,114.93 L330.61,115.08 L331.64,115.23 L332.68,115.38 L333.71,115.53 L334.74,115.67" fill="none" stroke="#b39dd4" stroke-width="2.3" stroke-linejoin="round"/>
<path d="M210.70,120.10 L211.73,119.53 L212.76,118.97 L213.80,118.43 L214.83,117.91 L215.86,117.40 L216.89,116.91 L217.92,116.44 L218.96,115.97 L219.99,115.52 L221.02,115.09 L222.05,114.66 L223.08,114.25 L224.12,113.85 L225.15,113.46 L226.18,113.09 L227.21,112.72 L228.24,112.37 L229.28,112.03 L230.31,111.69 L231.34,111.37 L232.37,111.06 L233.40,110.75 L234.44,110.46 L235.47,110.17 L236.50,109.89 L237.53,109.62 L238.56,109.36 L239.60,109.10 L240.63,108.86 L241.66,108.62 L242.69,108.39 L243.72,108.16 L244.76,107.94 L245.79,107.73 L246.82,107.52 L247.85,107.32 L248.88,107.13 L249.92,106.94 L250.95,106.76 L251.98,106.58 L253.01,106.41 L254.04,106.24 L255.08,106.08 L256.11,105.92 L257.14,105.77 L258.17,105.62 L259.20,105.48 L260.24,105.34 L261.27,105.20 L262.30,105.07 L263.33,104.94 L264.36,104.82 L265.40,104.70 L266.43,104.58 L267.46,104.47 L268.49,104.36 L269.52,104.25 L270.56,104.15 L271.59,104.05 L272.62,103.95 L273.65,104.16 L274.68,104.36 L275.72,104.57 L276.75,104.77 L277.78,104.97 L278.81,105.16 L279.84,105.35 L280.88,105.55 L281.91,105.73 L282.94,105.92 L283.97,106.10 L285.00,106.28 L286.04,106.46 L287.07,106.64 L288.10,106.81 L289.13,106.98 L290.16,107.15 L291.20,107.32 L292.23,107.48 L293.26,107.65 L294.29,107.81 L295.32,107.97 L296.36,108.12 L297.39,108.28 L298.42,108.43 L299.45,108.58 L300.48,108.73 L301.52,108.88 L302.55,109.02 L303.58,109.17 L304.61,109.31 L305.64,109.45 L306.68,109.58 L307.71,109.72 L308.74,109.85 L309.77,109.99 L310.80,110.12 L311.84,110.25 L312.87,110.37 L313.90,110.50 L314.93,110.62 L315.96,110.74 L317.00,110.87 L318.03,110.99 L319.06,111.10 L320.09,111.22 L321.12,111.33 L322.16,111.45 L323.19,111.56 L324.22,111.67 L325.25,111.78 L326.28,111.89 L327.32,111.99 L328.35,112.10 L329.38,112.20 L330.41,112.30 L331.44,112.40 L332.48,112.50 L333.51,112.60 L334.54,112.70" fill="none" stroke="#111" stroke-width="1.3"/>
<text x="319.6" y="76.2" font-size="7.6" font-weight="bold" fill="#6f6f6f" textLength="27.5" lengthAdjust="spacingAndGlyphs">500 nM</text>
<text x="321.0" y="122.3" font-size="7.6" font-weight="bold" fill="#6f6f6f" textLength="26.5" lengthAdjust="spacingAndGlyphs">62.5 nM</text>
<line x1="339.00" y1="85.50" x2="339.00" y2="108.50" stroke="#7a7a7a" stroke-width="1.2"/>
<path d="M336.8,107.0 L341.2,107.0 L339.0,111.0 Z" fill="#7a7a7a" stroke="none" stroke-width="1.0"/>
<text x="-0.3" y="161.0" font-size="23" font-weight="bold" fill="#231f20">c</text>
<text x="71.1" y="173.8" font-size="10.0" font-weight="bold" fill="#2b2b2b" textLength="78.6" lengthAdjust="spacingAndGlyphs" stroke="#2b2b2b" stroke-width="0.25">PvRipr vs PvCSS</text>
<text x="87.0" y="185.5" font-size="9.7" fill="#6e6e6e" stroke="#6e6e6e" stroke-width="0.42" textLength="41" lengthAdjust="spacingAndGlyphs">K<tspan font-size="5.82" stroke-width="0.1" dy="2.9">D</tspan><tspan dy="-2.9"> = N.D.</tspan></text>
<line x1="35.50" y1="177.80" x2="35.50" y2="264.90" stroke="#231f20" stroke-width="1.3"/>
<line x1="30.60" y1="257.70" x2="35.50" y2="257.70" stroke="#231f20" stroke-width="1.1"/>
<text x="29.9" y="260.4" font-size="6.1" font-weight="bold" fill="#231f20" text-anchor="end">0.00</text>
<line x1="30.60" y1="241.80" x2="35.50" y2="241.80" stroke="#231f20" stroke-width="1.1"/>
<text x="29.9" y="244.49999999999997" font-size="6.1" font-weight="bold" fill="#231f20" text-anchor="end">0.05</text>
<line x1="30.60" y1="225.90" x2="35.50" y2="225.90" stroke="#231f20" stroke-width="1.1"/>
<text x="29.9" y="228.59999999999997" font-size="6.1" font-weight="bold" fill="#231f20" text-anchor="end">0.10</text>
<line x1="30.60" y1="210.00" x2="35.50" y2="210.00" stroke="#231f20" stroke-width="1.1"/>
<text x="29.9" y="212.69999999999996" font-size="6.1" font-weight="bold" fill="#231f20" text-anchor="end">0.15</text>
<line x1="30.60" y1="194.10" x2="35.50" y2="194.10" stroke="#231f20" stroke-width="1.1"/>
<text x="29.9" y="196.79999999999998" font-size="6.1" font-weight="bold" fill="#231f20" text-anchor="end">0.20</text>
<line x1="30.60" y1="178.20" x2="35.50" y2="178.20" stroke="#231f20" stroke-width="1.1"/>
<text x="29.9" y="180.89999999999998" font-size="6.1" font-weight="bold" fill="#231f20" text-anchor="end">0.25</text>
<line x1="34.90" y1="264.30" x2="169.00" y2="264.30" stroke="#231f20" stroke-width="1.3"/>
<line x1="40.60" y1="264.30" x2="40.60" y2="267.80" stroke="#231f20" stroke-width="1.1"/>
<text x="40.6" y="274.7" font-size="6.2" font-weight="bold" fill="#231f20" text-anchor="middle">0</text>
<line x1="66.20" y1="264.30" x2="66.20" y2="267.80" stroke="#231f20" stroke-width="1.1"/>
<text x="66.2" y="274.7" font-size="6.2" font-weight="bold" fill="#231f20" text-anchor="middle">50</text>
<line x1="91.80" y1="264.30" x2="91.80" y2="267.80" stroke="#231f20" stroke-width="1.1"/>
<text x="91.80000000000001" y="274.7" font-size="6.2" font-weight="bold" fill="#231f20" text-anchor="middle">100</text>
<line x1="117.40" y1="264.30" x2="117.40" y2="267.80" stroke="#231f20" stroke-width="1.1"/>
<text x="117.4" y="274.7" font-size="6.2" font-weight="bold" fill="#231f20" text-anchor="middle">150</text>
<line x1="143.00" y1="264.30" x2="143.00" y2="267.80" stroke="#231f20" stroke-width="1.1"/>
<text x="143.0" y="274.7" font-size="6.2" font-weight="bold" fill="#231f20" text-anchor="middle">200</text>
<line x1="168.60" y1="264.30" x2="168.60" y2="267.80" stroke="#231f20" stroke-width="1.1"/>
<text x="168.6" y="274.7" font-size="6.2" font-weight="bold" fill="#231f20" text-anchor="middle">250</text>
<path d="M40.60,254.39 L41.11,254.08 L41.62,254.06 L42.14,254.50 L42.65,254.49 L43.16,254.24 L43.67,254.66 L44.18,254.02 L44.70,254.13 L45.21,254.93 L45.72,254.71 L46.23,254.01 L46.74,254.75 L47.26,254.63 L47.77,254.87 L48.28,254.60 L48.79,254.78 L49.30,254.04 L49.82,254.08 L50.33,254.69 L50.84,254.93 L51.35,254.59 L51.86,254.88 L52.38,254.66 L52.89,254.64 L53.40,254.20 L53.91,253.88 L54.42,253.98 L54.94,253.99 L55.45,254.88 L55.96,254.48 L56.47,254.86 L56.98,254.24 L57.50,253.99 L58.01,254.08 L58.52,254.11 L59.03,254.23 L59.54,254.61 L60.06,254.59 L60.57,254.71 L61.08,254.24 L61.59,254.52 L62.10,254.01 L62.62,253.81 L63.13,253.87 L63.64,254.79 L64.15,254.03 L64.66,253.87 L65.18,254.28 L65.69,253.84 L66.20,254.70 L66.71,254.84 L67.22,254.35 L67.74,254.87 L68.25,254.00 L68.76,254.61 L69.27,254.07 L69.78,254.85 L70.30,254.64 L70.81,254.28 L71.32,253.68 L71.83,254.48 L72.34,254.76 L72.86,254.07 L73.37,253.86 L73.88,254.70 L74.39,254.40 L74.90,254.40 L75.42,254.50 L75.93,254.54 L76.44,254.76 L76.95,254.72 L77.46,253.73 L77.98,254.54 L78.49,254.74 L79.00,254.22 L79.51,254.72 L80.02,254.67 L80.54,254.54 L81.05,253.89 L81.56,253.84 L82.07,254.62 L82.58,254.22 L83.10,254.62 L83.61,254.14 L84.12,253.72 L84.63,253.71 L85.14,254.16 L85.66,254.15 L86.17,254.15 L86.68,254.40 L87.19,254.38 L87.70,254.20 L88.22,254.29 L88.73,254.03 L89.24,254.50 L89.75,254.11 L90.26,253.60 L90.78,253.52 L91.29,254.23 L91.80,253.60 L92.31,253.58 L92.82,253.67 L93.34,253.98 L93.85,253.59 L94.36,253.79 L94.87,254.25 L95.38,253.90 L95.90,254.12 L96.41,254.55 L96.92,253.48 L97.43,254.29 L97.94,253.85 L98.46,253.65 L98.97,254.02 L99.48,253.40 L99.99,253.41 L100.50,254.28 L101.02,253.39 L101.53,253.71 L102.04,253.62 L102.55,253.58 L103.06,253.35 L103.58,253.65 L104.09,253.88 L104.60,253.29 L105.11,254.14 L105.62,253.83 L106.14,254.24 L106.65,254.25 L107.16,254.07 L107.67,254.23 L108.18,253.72 L108.70,253.38 L109.21,253.53 L109.72,254.22 L110.23,253.54 L110.74,253.75 L111.26,253.51 L111.77,253.85 L112.28,253.55 L112.79,253.64 L113.30,253.41 L113.82,253.48 L114.33,253.21 L114.84,253.43 L115.35,254.05 L115.86,254.20 L116.38,254.32 L116.89,253.90 L117.40,254.20 L117.91,254.09 L118.42,253.72 L118.94,254.10 L119.45,253.92 L119.96,253.13 L120.47,253.22 L120.98,253.84 L121.50,253.67 L122.01,253.97 L122.52,253.86 L123.03,253.36 L123.54,253.93 L124.06,254.22 L124.57,253.62 L125.08,253.78 L125.59,253.21 L126.10,253.39 L126.62,253.09 L127.13,253.84 L127.64,253.63 L128.15,253.14 L128.66,254.17 L129.18,253.54 L129.69,253.52 L130.20,254.11 L130.71,253.14 L131.22,253.13 L131.74,254.03 L132.25,254.03 L132.76,252.95 L133.27,253.31 L133.78,253.32 L134.30,253.83 L134.81,254.04 L135.32,253.27 L135.83,254.11 L136.34,253.42 L136.86,253.03 L137.37,254.02 L137.88,253.50 L138.39,254.03 L138.90,253.64 L139.42,253.53 L139.93,253.75 L140.44,253.64 L140.95,253.97 L141.46,253.26 L141.98,254.02 L142.49,253.20 L143.00,253.03 L143.51,253.91 L144.02,253.91 L144.54,252.98 L145.05,253.22 L145.56,253.11 L146.07,253.70 L146.58,253.42 L147.10,252.86 L147.61,252.93 L148.12,253.81 L148.63,253.07 L149.14,253.91 L149.66,252.78 L150.17,253.83 L150.68,252.75 L151.19,253.73 L151.70,253.03 L152.22,253.36 L152.73,253.59 L153.24,253.27 L153.75,253.65 L154.26,253.48 L154.78,253.00 L155.29,252.83 L155.80,253.39 L156.31,253.40 L156.82,253.23 L157.34,253.73 L157.85,252.96 L158.36,253.03 L158.87,253.46 L159.38,253.45 L159.90,252.68 L160.41,253.45 L160.92,253.52 L161.43,253.79 L161.94,252.89 L162.46,252.97 L162.97,252.83 L163.48,253.40 L163.48,262.43 L162.97,261.41 L162.46,262.43 L161.94,261.40 L161.43,261.52 L160.92,261.79 L160.41,261.36 L159.90,261.55 L159.38,262.37 L158.87,261.66 L158.36,261.10 L157.85,262.41 L157.34,261.73 L156.82,262.40 L156.31,261.07 L155.80,261.59 L155.29,261.15 L154.78,261.93 L154.26,261.47 L153.75,261.36 L153.24,261.81 L152.73,261.94 L152.22,261.98 L151.70,261.18 L151.19,262.22 L150.68,261.56 L150.17,261.68 L149.66,261.06 L149.14,262.19 L148.63,261.56 L148.12,261.30 L147.61,261.70 L147.10,261.38 L146.58,261.52 L146.07,261.56 L145.56,261.78 L145.05,261.11 L144.54,261.25 L144.02,262.37 L143.51,261.67 L143.00,261.19 L142.49,261.74 L141.98,261.32 L141.46,261.37 L140.95,261.13 L140.44,261.35 L139.93,261.58 L139.42,261.95 L138.90,262.22 L138.39,262.17 L137.88,261.20 L137.37,261.28 L136.86,262.10 L136.34,261.31 L135.83,261.74 L135.32,261.44 L134.81,261.91 L134.30,262.08 L133.78,262.08 L133.27,261.10 L132.76,261.59 L132.25,261.58 L131.74,261.88 L131.22,262.04 L130.71,261.62 L130.20,261.18 L129.69,261.26 L129.18,262.02 L128.66,262.18 L128.15,262.12 L127.64,261.52 L127.13,261.81 L126.62,261.24 L126.10,261.65 L125.59,261.21 L125.08,261.75 L124.57,261.80 L124.06,261.53 L123.54,261.13 L123.03,260.94 L122.52,260.93 L122.01,261.53 L121.50,260.83 L120.98,261.70 L120.47,261.99 L119.96,261.00 L119.45,261.78 L118.94,261.63 L118.42,261.98 L117.91,261.00 L117.40,261.68 L116.89,260.86 L116.38,261.00 L115.86,261.34 L115.35,261.71 L114.84,261.60 L114.33,260.81 L113.82,260.90 L113.30,261.48 L112.79,261.43 L112.28,261.27 L111.77,261.11 L111.26,262.11 L110.74,260.98 L110.23,261.09 L109.72,261.97 L109.21,260.98 L108.70,260.84 L108.18,261.23 L107.67,261.73 L107.16,262.11 L106.65,261.28 L106.14,261.33 L105.62,262.03 L105.11,261.49 L104.60,261.07 L104.09,260.96 L103.58,261.77 L103.06,260.99 L102.55,260.86 L102.04,260.88 L101.53,261.47 L101.02,261.90 L100.50,260.81 L99.99,262.00 L99.48,261.65 L98.97,261.66 L98.46,260.89 L97.94,261.95 L97.43,261.05 L96.92,261.04 L96.41,261.77 L95.90,261.38 L95.38,260.68 L94.87,260.68 L94.36,260.92 L93.85,261.25 L93.34,262.03 L92.82,261.97 L92.31,261.87 L91.80,261.64 L91.29,261.73 L90.78,260.96 L90.26,260.79 L89.75,261.94 L89.24,261.94 L88.73,261.93 L88.22,261.24 L87.70,261.31 L87.19,261.88 L86.68,261.31 L86.17,260.94 L85.66,261.69 L85.14,261.05 L84.63,261.25 L84.12,260.59 L83.61,260.61 L83.10,261.28 L82.58,261.84 L82.07,261.07 L81.56,261.15 L81.05,260.90 L80.54,260.86 L80.02,261.16 L79.51,261.46 L79.00,260.73 L78.49,261.47 L77.98,260.75 L77.46,260.75 L76.95,261.55 L76.44,261.09 L75.93,261.00 L75.42,261.20 L74.90,261.80 L74.39,261.64 L73.88,261.69 L73.37,260.80 L72.86,260.82 L72.34,261.89 L71.83,261.84 L71.32,260.89 L70.81,260.99 L70.30,261.53 L69.78,261.68 L69.27,260.80 L68.76,261.23 L68.25,260.99 L67.74,261.69 L67.22,260.51 L66.71,261.21 L66.20,260.69 L65.69,260.94 L65.18,261.14 L64.66,261.65 L64.15,260.94 L63.64,261.31 L63.13,260.96 L62.62,260.44 L62.10,260.67 L61.59,260.52 L61.08,260.99 L60.57,261.65 L60.06,260.50 L59.54,261.15 L59.03,261.21 L58.52,260.42 L58.01,261.09 L57.50,260.66 L56.98,261.64 L56.47,260.79 L55.96,261.64 L55.45,260.51 L54.94,260.74 L54.42,260.47 L53.91,261.03 L53.40,260.92 L52.89,261.77 L52.38,260.46 L51.86,261.70 L51.35,261.18 L50.84,260.81 L50.33,261.43 L49.82,261.04 L49.30,260.94 L48.79,260.76 L48.28,261.09 L47.77,261.33 L47.26,260.98 L46.74,260.94 L46.23,260.42 L45.72,260.85 L45.21,260.58 L44.70,260.49 L44.18,261.53 L43.67,260.88 L43.16,261.20 L42.65,261.47 L42.14,260.41 L41.62,261.02 L41.11,261.05 L40.60,260.51 Z" fill="#6fbd82" stroke="none" stroke-width="1.0"/>
<path d="M40.60,256.64 L41.11,256.37 L41.62,256.07 L42.14,256.11 L42.65,256.13 L43.16,256.86 L43.67,256.88 L44.18,256.26 L44.70,256.26 L45.21,256.50 L45.72,256.46 L46.23,256.15 L46.74,256.24 L47.26,256.22 L47.77,256.16 L48.28,256.72 L48.79,256.81 L49.30,256.60 L49.82,255.94 L50.33,256.42 L50.84,256.52 L51.35,256.29 L51.86,256.30 L52.38,256.50 L52.89,256.60 L53.40,256.45 L53.91,256.00 L54.42,256.53 L54.94,256.18 L55.45,256.22 L55.96,256.55 L56.47,256.18 L56.98,256.66 L57.50,256.00 L58.01,256.31 L58.52,256.15 L59.03,256.62 L59.54,256.31 L60.06,256.56 L60.57,256.46 L61.08,255.83 L61.59,255.79 L62.10,256.02 L62.62,255.85 L63.13,255.72 L63.64,255.83 L64.15,256.01 L64.66,256.57 L65.18,255.75 L65.69,255.90 L66.20,255.67 L66.71,255.78 L67.22,256.11 L67.74,256.26 L68.25,255.77 L68.76,256.32 L69.27,256.34 L69.78,256.32 L70.30,255.79 L70.81,255.61 L71.32,255.81 L71.83,255.97 L72.34,256.42 L72.86,255.76 L73.37,256.10 L73.88,255.97 L74.39,255.60 L74.90,256.22 L75.42,255.67 L75.93,256.22 L76.44,255.86 L76.95,255.64 L77.46,256.29 L77.98,256.22 L78.49,255.78 L79.00,255.47 L79.51,255.92 L80.02,256.22 L80.54,255.66 L81.05,255.95 L81.56,255.53 L82.07,255.82 L82.58,255.78 L83.10,255.87 L83.61,255.78 L84.12,256.10 L84.63,256.02 L85.14,255.83 L85.66,255.45 L86.17,255.59 L86.68,255.84 L87.19,255.73 L87.70,255.78 L88.22,255.79 L88.73,255.94 L89.24,255.53 L89.75,256.05 L90.26,255.68 L90.78,255.34 L91.29,256.07 L91.80,255.85 L92.31,256.12 L92.82,255.60 L93.34,255.98 L93.85,255.69 L94.36,255.51 L94.87,255.71 L95.38,255.50 L95.90,255.25 L96.41,256.06 L96.92,255.21 L97.43,255.29 L97.94,255.90 L98.46,255.98 L98.97,255.23 L99.48,255.52 L99.99,255.70 L100.50,255.89 L101.02,255.52 L101.53,255.94 L102.04,255.57 L102.55,255.24 L103.06,255.36 L103.58,255.34 L104.09,255.38 L104.60,255.07 L105.11,255.22 L105.62,255.14 L106.14,255.48 L106.65,255.48 L107.16,255.33 L107.67,255.59 L108.18,255.05 L108.70,255.66 L109.21,255.07 L109.72,255.58 L110.23,255.24 L110.74,255.37 L111.26,255.83 L111.77,255.82 L112.28,254.94 L112.79,255.39 L113.30,254.93 L113.82,255.28 L114.33,255.18 L114.84,255.38 L115.35,255.54 L115.86,255.18 L116.38,255.53 L116.89,255.62 L117.40,255.52 L117.91,255.33 L118.42,255.57 L118.94,255.64 L119.45,255.04 L119.96,255.15 L120.47,255.32 L120.98,255.42 L121.50,255.52 L122.01,255.27 L122.52,255.45 L123.03,255.01 L123.54,255.43 L124.06,255.10 L124.57,255.44 L125.08,254.81 L125.59,255.40 L126.10,254.74 L126.62,255.32 L127.13,254.97 L127.64,255.12 L128.15,254.88 L128.66,254.70 L129.18,255.55 L129.69,254.86 L130.20,255.19 L130.71,255.51 L131.22,255.11 L131.74,254.85 L132.25,254.66 L132.76,255.03 L133.27,254.93 L133.78,254.61 L134.30,254.71 L134.81,255.40 L135.32,254.94 L135.83,254.90 L136.34,254.61 L136.86,254.82 L137.37,254.79 L137.88,254.88 L138.39,255.27 L138.90,255.38 L139.42,254.57 L139.93,255.19 L140.44,254.55 L140.95,254.92 L141.46,255.16 L141.98,255.07 L142.49,254.83 L143.00,254.65 L143.51,254.66 L144.02,254.86 L144.54,254.52 L145.05,254.65 L145.56,255.23 L146.07,254.79 L146.58,254.72 L147.10,255.27 L147.61,254.96 L148.12,254.63 L148.63,254.78 L149.14,255.16 L149.66,255.00 L150.17,254.88 L150.68,255.18 L151.19,255.22 L151.70,254.47 L152.22,255.17 L152.73,255.00 L153.24,254.34 L153.75,255.13 L154.26,254.41 L154.78,254.91 L155.29,254.75 L155.80,254.47 L156.31,254.53 L156.82,254.83 L157.34,254.46 L157.85,254.87 L158.36,254.68 L158.87,254.45 L159.38,254.42 L159.90,254.58 L160.41,254.91 L160.92,254.37 L161.43,254.92 L161.94,254.86 L162.46,254.61 L162.97,254.53 L163.48,254.28 L163.48,258.70 L40.60,258.70 Z" fill="#2a4d33" stroke="none" stroke-width="1.0"/>
<path d="M40.60,257.60 L163.48,257.60" fill="none" stroke="#050505" stroke-width="1.7"/>
<text x="154.6" y="227.4" font-size="7.3" font-weight="bold" fill="#6f6f6f" textLength="21.3" lengthAdjust="spacingAndGlyphs">10 µM</text>
<text x="152.7" y="247.8" font-size="7.3" font-weight="bold" fill="#6f6f6f" textLength="26" lengthAdjust="spacingAndGlyphs">1.25 µM</text>
<line x1="168.50" y1="230.80" x2="168.50" y2="237.00" stroke="#7a7a7a" stroke-width="1.1"/>
<path d="M166.6,236.0 L170.4,236.0 L168.5,239.4 Z" fill="#7a7a7a" stroke="none" stroke-width="1.0"/>
<text transform="translate(11.0,280.2) rotate(-90)" font-size="8.6" font-weight="bold" fill="#2b2b2b" textLength="60.3" lengthAdjust="spacingAndGlyphs">Response (nm)</text>
<line x1="15.40" y1="254.50" x2="15.40" y2="280.30" stroke="#231f20" stroke-width="1.2"/>
<path d="M13.6,255.5 L17.2,255.5 L15.4,251.8 Z" fill="#231f20" stroke="none" stroke-width="1.0"/>
<line x1="15.40" y1="280.30" x2="42.00" y2="280.30" stroke="#231f20" stroke-width="1.2"/>
<path d="M41.0,278.5 L41.0,282.1 L44.4,280.3 Z" fill="#231f20" stroke="none" stroke-width="1.0"/>
<text x="16.0" y="290.6" font-size="8.2" font-weight="bold" fill="#2b2b2b" textLength="32" lengthAdjust="spacingAndGlyphs">Time (s)</text>
<text x="183.8" y="160.6" font-size="22.5" font-weight="bold" fill="#231f20">d</text>
<text x="274.35" y="172.0" font-size="10.0" font-weight="bold" fill="#2b2b2b" text-anchor="middle" textLength="118" lengthAdjust="spacingAndGlyphs" stroke="#2b2b2b" stroke-width="0.25">PvPTRAMP, PvRipr, PvPC</text>
<text x="275.3" y="183.2" font-size="10.0" font-weight="bold" fill="#2b2b2b" text-anchor="middle" textLength="57.2" lengthAdjust="spacingAndGlyphs" stroke="#2b2b2b" stroke-width="0.25">vs PvCyRPA</text>
<text x="257.3" y="195.2" font-size="9.3" fill="#858585" stroke="#858585" stroke-width="0.2" textLength="40.6" lengthAdjust="spacingAndGlyphs">K<tspan font-size="5.58" stroke-width="0.1" dy="2.9">D</tspan><tspan dy="-2.9"> = N.D.</tspan></text>
<line x1="204.80" y1="175.90" x2="204.80" y2="264.70" stroke="#231f20" stroke-width="1.3"/>
<line x1="200.60" y1="176.40" x2="204.80" y2="176.40" stroke="#231f20" stroke-width="1.1"/>
<text x="200.1" y="179.29999999999998" font-size="6.3" font-weight="bold" fill="#231f20" text-anchor="end">0.2</text>
<line x1="200.60" y1="205.55" x2="204.80" y2="205.55" stroke="#231f20" stroke-width="1.1"/>
<text x="200.1" y="208.45" font-size="6.3" font-weight="bold" fill="#231f20" text-anchor="end">0.1</text>
<line x1="200.60" y1="234.70" x2="204.80" y2="234.70" stroke="#231f20" stroke-width="1.1"/>
<text x="200.1" y="237.6" font-size="6.3" font-weight="bold" fill="#231f20" text-anchor="end">0.0</text>
<line x1="200.60" y1="263.85" x2="204.80" y2="263.85" stroke="#231f20" stroke-width="1.1"/>
<text x="200.1" y="266.74999999999994" font-size="6.3" font-weight="bold" fill="#231f20" text-anchor="end">-0.1</text>
<line x1="204.10" y1="264.10" x2="338.20" y2="264.10" stroke="#231f20" stroke-width="1.3"/>
<line x1="210.90" y1="264.10" x2="210.90" y2="268.00" stroke="#231f20" stroke-width="1.1"/>
<text x="210.9" y="275.2" font-size="6.3" font-weight="bold" fill="#231f20" text-anchor="middle">0</text>
<line x1="236.24" y1="264.10" x2="236.24" y2="268.00" stroke="#231f20" stroke-width="1.1"/>
<text x="236.24" y="275.2" font-size="6.3" font-weight="bold" fill="#231f20" text-anchor="middle">50</text>
<line x1="261.58" y1="264.10" x2="261.58" y2="268.00" stroke="#231f20" stroke-width="1.1"/>
<text x="261.58" y="275.2" font-size="6.3" font-weight="bold" fill="#231f20" text-anchor="middle">100</text>
<line x1="286.92" y1="264.10" x2="286.92" y2="268.00" stroke="#231f20" stroke-width="1.1"/>
<text x="286.92" y="275.2" font-size="6.3" font-weight="bold" fill="#231f20" text-anchor="middle">150</text>
<line x1="312.26" y1="264.10" x2="312.26" y2="268.00" stroke="#231f20" stroke-width="1.1"/>
<text x="312.26" y="275.2" font-size="6.3" font-weight="bold" fill="#231f20" text-anchor="middle">200</text>
<line x1="337.60" y1="264.10" x2="337.60" y2="268.00" stroke="#231f20" stroke-width="1.1"/>
<text x="337.6" y="275.2" font-size="6.3" font-weight="bold" fill="#231f20" text-anchor="middle">250</text>
<line x1="209.3" y1="235.1" x2="336.2" y2="235.1" stroke="#111" stroke-width="1.7" stroke-dasharray="1.6,1.98"/>
<path d="M210.90,235.01 L211.41,235.04 L211.91,234.78 L212.42,234.28 L212.93,234.16 L213.43,233.82 L213.94,232.95 L214.45,233.77 L214.95,233.51 L215.46,232.50 L215.97,233.49 L216.47,232.48 L216.98,232.21 L217.49,232.34 L218.00,232.51 L218.50,231.60 L219.01,232.18 L219.52,231.64 L220.02,231.16 L220.53,231.51 L221.04,231.05 L221.54,231.23 L222.05,231.21 L222.56,230.83 L223.06,230.21 L223.57,231.34 L224.08,231.19 L224.58,231.09 L225.09,230.47 L225.60,230.62 L226.10,230.51 L226.61,229.57 L227.12,229.99 L227.62,230.07 L228.13,229.64 L228.64,229.97 L229.14,230.06 L229.65,229.70 L230.16,229.27 L230.67,230.27 L231.17,230.02 L231.68,229.69 L232.19,229.81 L232.69,228.99 L233.20,229.60 L233.71,229.50 L234.21,230.17 L234.72,229.71 L235.23,229.36 L235.73,229.93 L236.24,229.58 L236.75,229.11 L237.25,229.15 L237.76,230.12 L238.27,229.03 L238.77,229.03 L239.28,229.13 L239.79,228.87 L240.29,229.15 L240.80,229.17 L241.31,229.15 L241.81,228.32 L242.32,228.53 L242.83,228.45 L243.34,229.31 L243.84,229.09 L244.35,228.17 L244.86,229.16 L245.36,229.35 L245.87,228.90 L246.38,228.99 L246.88,229.35 L247.39,228.17 L247.90,229.00 L248.40,229.22 L248.91,229.53 L249.42,228.90 L249.92,228.29 L250.43,229.00 L250.94,228.45 L251.44,228.77 L251.95,229.18 L252.46,228.51 L252.96,229.37 L253.47,229.10 L253.98,229.00 L254.48,228.89 L254.99,228.62 L255.50,228.96 L256.01,228.91 L256.51,228.58 L257.02,228.77 L257.53,229.58 L258.03,228.77 L258.54,229.13 L259.05,228.83 L259.55,228.99 L260.06,228.93 L260.57,228.30 L261.07,228.85 L261.58,228.60 L262.09,228.92 L262.59,228.42 L263.10,229.08 L263.61,228.57 L264.11,228.32 L264.62,229.13 L265.13,228.41 L265.63,229.31 L266.14,229.29 L266.65,228.70 L267.15,229.26 L267.66,228.42 L268.17,229.23 L268.68,228.90 L269.18,229.07 L269.69,228.83 L270.20,229.02 L270.70,229.16 L271.21,228.51 L271.72,228.65 L272.22,229.99 L272.73,230.85 L273.24,231.05 L273.74,231.69 L274.25,232.72 L274.76,231.89 L275.26,231.98 L275.77,233.50 L276.28,233.70 L276.78,234.00 L277.29,233.34 L277.80,234.25 L278.30,234.30 L278.81,234.49 L279.32,234.87 L279.82,235.21 L280.33,235.88 L280.84,234.45 L281.35,234.89 L281.85,234.93 L282.36,236.05 L282.87,235.41 L283.37,235.87 L283.88,236.05 L284.39,235.18 L284.89,236.49 L285.40,236.52 L285.91,236.15 L286.41,236.26 L286.92,236.40 L287.43,236.77 L287.93,236.80 L288.44,237.07 L288.95,236.49 L289.45,236.70 L289.96,237.10 L290.47,237.22 L290.97,237.01 L291.48,237.81 L291.99,237.54 L292.49,237.78 L293.00,237.76 L293.51,238.26 L294.02,237.62 L294.52,237.77 L295.03,238.17 L295.54,238.17 L296.04,237.56 L296.55,237.95 L297.06,238.35 L297.56,238.35 L298.07,238.19 L298.58,238.03 L299.08,238.38 L299.59,238.79 L300.10,238.85 L300.60,238.54 L301.11,238.39 L301.62,238.61 L302.12,238.20 L302.63,239.21 L303.14,239.25 L303.64,238.97 L304.15,239.21 L304.66,239.62 L305.16,239.15 L305.67,239.23 L306.18,239.54 L306.69,239.08 L307.19,239.49 L307.70,239.07 L308.21,239.73 L308.71,239.22 L309.22,239.56 L309.73,239.63 L310.23,239.15 L310.74,239.51 L311.25,239.84 L311.75,239.67 L312.26,239.55 L312.77,239.60 L313.27,239.68 L313.78,239.91 L314.29,239.87 L314.79,240.41 L315.30,240.18 L315.81,240.00 L316.31,239.48 L316.82,240.18 L317.33,240.41 L317.83,240.17 L318.34,240.84 L318.85,240.88 L319.36,240.71 L319.86,240.29 L320.37,241.14 L320.88,240.68 L321.38,239.87 L321.89,240.97 L322.40,240.03 L322.90,240.09 L323.41,240.89 L323.92,241.11 L324.42,240.68 L324.93,241.00 L325.44,241.05 L325.94,240.16 L326.45,240.83 L326.96,240.98 L327.46,240.44 L327.97,241.06 L328.48,240.70 L328.98,240.98 L329.49,240.89 L330.00,241.46 L330.50,241.01 L331.01,240.89 L331.52,240.43 L332.03,240.77 L332.53,241.66" fill="none" stroke="#e2de72" stroke-width="2.0" stroke-linejoin="round"/>
<path d="M210.90,235.16 L211.41,235.18 L211.91,234.99 L212.42,234.06 L212.93,234.24 L213.43,234.14 L213.94,234.49 L214.45,233.71 L214.95,233.74 L215.46,233.62 L215.97,233.41 L216.47,233.58 L216.98,233.60 L217.49,233.20 L218.00,233.15 L218.50,233.41 L219.01,233.89 L219.52,233.31 L220.02,232.80 L220.53,233.30 L221.04,233.44 L221.54,233.18 L222.05,233.11 L222.56,232.82 L223.06,232.99 L223.57,232.50 L224.08,233.01 L224.58,233.31 L225.09,232.93 L225.60,233.27 L226.10,233.03 L226.61,232.80 L227.12,232.30 L227.62,233.08 L228.13,232.81 L228.64,232.03 L229.14,233.23 L229.65,233.07 L230.16,233.13 L230.67,233.16 L231.17,232.57 L231.68,232.66 L232.19,232.35 L232.69,232.95 L233.20,232.49 L233.71,233.28 L234.21,232.31 L234.72,232.84 L235.23,233.06 L235.73,232.64 L236.24,232.48 L236.75,232.19 L237.25,233.02 L237.76,232.96 L238.27,233.19 L238.77,232.48 L239.28,233.23 L239.79,232.86 L240.29,232.94 L240.80,232.85 L241.31,232.54 L241.81,232.64 L242.32,233.10 L242.83,232.67 L243.34,232.82 L243.84,232.84 L244.35,232.96 L244.86,233.28 L245.36,232.61 L245.87,233.01 L246.38,232.74 L246.88,232.93 L247.39,232.75 L247.90,232.46 L248.40,232.88 L248.91,232.55 L249.42,233.58 L249.92,232.62 L250.43,232.93 L250.94,233.24 L251.44,233.04 L251.95,233.67 L252.46,233.19 L252.96,232.75 L253.47,233.66 L253.98,233.21 L254.48,234.40 L254.99,233.08 L255.50,233.25 L256.01,233.48 L256.51,233.10 L257.02,233.77 L257.53,234.06 L258.03,234.20 L258.54,233.81 L259.05,233.65 L259.55,234.19 L260.06,234.19 L260.57,233.72 L261.07,233.65 L261.58,233.59 L262.09,233.98 L262.59,233.93 L263.10,234.25 L263.61,234.40 L264.11,233.67 L264.62,234.26 L265.13,234.28 L265.63,234.06 L266.14,234.29 L266.65,234.76 L267.15,234.33 L267.66,234.35 L268.17,234.29 L268.68,234.56 L269.18,234.32 L269.69,234.71 L270.20,234.16 L270.70,234.38 L271.21,234.79 L271.72,235.17 L272.22,237.26 L272.73,240.23 L273.24,240.52 L273.74,240.26 L274.25,240.53 L274.76,240.64 L275.26,240.14 L275.77,240.13 L276.28,240.82 L276.78,240.48 L277.29,240.90 L277.80,241.04 L278.30,240.79 L278.81,240.79 L279.32,240.93 L279.82,241.71 L280.33,240.61 L280.84,241.75 L281.35,241.51 L281.85,241.36 L282.36,241.78 L282.87,241.72 L283.37,241.50 L283.88,241.86 L284.39,242.02 L284.89,242.21 L285.40,242.18 L285.91,242.19 L286.41,241.54 L286.92,242.14 L287.43,242.63 L287.93,242.75 L288.44,242.32 L288.95,242.46 L289.45,242.40 L289.96,242.38 L290.47,243.10 L290.97,243.31 L291.48,243.08 L291.99,243.30 L292.49,243.74 L293.00,242.96 L293.51,243.42 L294.02,243.47 L294.52,243.91 L295.03,243.19 L295.54,243.18 L296.04,243.95 L296.55,243.66 L297.06,244.06 L297.56,244.26 L298.07,244.30 L298.58,244.53 L299.08,244.37 L299.59,244.38 L300.10,243.92 L300.60,244.85 L301.11,244.16 L301.62,244.65 L302.12,245.21 L302.63,244.28 L303.14,245.17 L303.64,244.74 L304.15,245.05 L304.66,244.60 L305.16,244.54 L305.67,245.47 L306.18,246.11 L306.69,245.75 L307.19,245.59 L307.70,245.69 L308.21,246.29 L308.71,246.34 L309.22,245.68 L309.73,245.62 L310.23,246.67 L310.74,245.99 L311.25,246.42 L311.75,246.68 L312.26,246.08 L312.77,246.24 L313.27,246.02 L313.78,246.97 L314.29,246.61 L314.79,247.03 L315.30,246.36 L315.81,247.13 L316.31,246.69 L316.82,246.98 L317.33,246.69 L317.83,247.13 L318.34,247.52 L318.85,247.27 L319.36,247.35 L319.86,247.70 L320.37,247.50 L320.88,247.85 L321.38,247.79 L321.89,248.14 L322.40,247.78 L322.90,248.06 L323.41,248.15 L323.92,248.68 L324.42,248.38 L324.93,247.96 L325.44,247.99 L325.94,248.46 L326.45,248.43 L326.96,248.35 L327.46,248.53 L327.97,249.06 L328.48,248.28 L328.98,249.05 L329.49,248.95 L330.00,249.63 L330.50,248.61 L331.01,249.42 L331.52,249.29 L332.03,249.47 L332.53,249.66" fill="none" stroke="#d29fd0" stroke-width="2.0" stroke-linejoin="round"/>
<path d="M210.90,238.06 L211.41,237.58 L211.91,237.65 L212.42,237.03 L212.93,237.74 L213.43,237.11 L213.94,237.54 L214.45,237.77 L214.95,238.12 L215.46,238.01 L215.97,237.79 L216.47,238.02 L216.98,237.70 L217.49,237.82 L218.00,237.81 L218.50,238.13 L219.01,237.81 L219.52,237.58 L220.02,237.55 L220.53,238.78 L221.04,237.32 L221.54,238.01 L222.05,238.00 L222.56,238.03 L223.06,237.80 L223.57,238.35 L224.08,238.23 L224.58,237.89 L225.09,238.12 L225.60,237.85 L226.10,238.45 L226.61,239.01 L227.12,238.91 L227.62,238.74 L228.13,238.43 L228.64,238.47 L229.14,238.66 L229.65,239.08 L230.16,238.57 L230.67,238.57 L231.17,238.19 L231.68,238.65 L232.19,238.72 L232.69,238.48 L233.20,238.40 L233.71,238.76 L234.21,238.91 L234.72,238.57 L235.23,239.11 L235.73,238.77 L236.24,239.02 L236.75,239.46 L237.25,238.79 L237.76,238.99 L238.27,238.93 L238.77,238.94 L239.28,239.21 L239.79,238.58 L240.29,239.25 L240.80,238.69 L241.31,238.98 L241.81,239.51 L242.32,238.68 L242.83,239.74 L243.34,239.95 L243.84,239.73 L244.35,239.61 L244.86,239.45 L245.36,239.38 L245.87,240.22 L246.38,239.16 L246.88,239.53 L247.39,239.75 L247.90,239.42 L248.40,239.20 L248.91,239.75 L249.42,239.70 L249.92,239.12 L250.43,239.54 L250.94,239.51 L251.44,239.71 L251.95,240.01 L252.46,240.14 L252.96,239.46 L253.47,239.91 L253.98,239.74 L254.48,239.42 L254.99,240.24 L255.50,239.88 L256.01,239.98 L256.51,239.39 L257.02,240.30 L257.53,240.18 L258.03,240.42 L258.54,240.05 L259.05,240.77 L259.55,240.39 L260.06,240.14 L260.57,240.49 L261.07,240.59 L261.58,240.20 L262.09,240.81 L262.59,240.63 L263.10,240.75 L263.61,240.87 L264.11,241.43 L264.62,240.56 L265.13,240.45 L265.63,240.80 L266.14,240.63 L266.65,239.95 L267.15,241.40 L267.66,240.92 L268.17,240.24 L268.68,240.61 L269.18,240.94 L269.69,240.77 L270.20,240.78 L270.70,241.03 L271.21,241.30 L271.72,241.35 L272.22,241.14 L272.73,241.27 L273.24,240.68 L273.74,240.77 L274.25,241.33 L274.76,241.21 L275.26,241.51 L275.77,241.24 L276.28,241.38 L276.78,241.61 L277.29,240.96 L277.80,241.38 L278.30,242.05 L278.81,241.92 L279.32,241.62 L279.82,242.13 L280.33,242.67 L280.84,242.63 L281.35,241.84 L281.85,242.11 L282.36,241.73 L282.87,242.23 L283.37,242.06 L283.88,242.29 L284.39,242.73 L284.89,242.60 L285.40,242.66 L285.91,242.31 L286.41,243.21 L286.92,242.86 L287.43,242.56 L287.93,243.11 L288.44,243.54 L288.95,242.77 L289.45,243.44 L289.96,242.93 L290.47,243.72 L290.97,243.70 L291.48,243.47 L291.99,243.29 L292.49,243.20 L293.00,243.45 L293.51,244.09 L294.02,243.99 L294.52,243.95 L295.03,243.83 L295.54,244.04 L296.04,244.33 L296.55,243.41 L297.06,244.13 L297.56,244.34 L298.07,244.03 L298.58,244.29 L299.08,244.47 L299.59,244.21 L300.10,244.27 L300.60,244.25 L301.11,244.46 L301.62,244.84 L302.12,245.18 L302.63,244.94 L303.14,244.94 L303.64,244.83 L304.15,245.23 L304.66,245.10 L305.16,245.67 L305.67,245.38 L306.18,245.74 L306.69,245.64 L307.19,245.56 L307.70,245.71 L308.21,245.42 L308.71,245.98 L309.22,245.77 L309.73,245.63 L310.23,245.98 L310.74,246.32 L311.25,246.09 L311.75,245.37 L312.26,246.02 L312.77,246.29 L313.27,246.51 L313.78,246.13 L314.29,246.57 L314.79,246.77 L315.30,246.77 L315.81,246.10 L316.31,246.53 L316.82,246.56 L317.33,246.69 L317.83,246.90 L318.34,247.37 L318.85,247.05 L319.36,246.77 L319.86,246.76 L320.37,247.48 L320.88,247.03 L321.38,247.33 L321.89,247.94 L322.40,248.05 L322.90,248.12 L323.41,247.30 L323.92,248.32 L324.42,247.81 L324.93,248.25 L325.44,247.97 L325.94,248.41 L326.45,248.12 L326.96,248.20 L327.46,248.19 L327.97,248.03 L328.48,248.38 L328.98,248.74 L329.49,248.14 L330.00,248.62 L330.50,248.30 L331.01,248.31 L331.52,248.25 L332.03,249.45 L332.53,248.97" fill="none" stroke="#f09a5c" stroke-width="2.0" stroke-linejoin="round"/>
<text x="296.6" y="213.7" font-size="5.8" font-weight="bold" fill="#dcd86a" textLength="18.8" lengthAdjust="spacingAndGlyphs">PvRipr</text>
<text x="296.8" y="222.7" font-size="5.8" font-weight="bold" fill="#c98ec6" textLength="32.6" lengthAdjust="spacingAndGlyphs">PvPTRAMP</text>
<text x="296.8" y="231.6" font-size="5.8" font-weight="bold" fill="#ef9457" textLength="15.2" lengthAdjust="spacingAndGlyphs">PvPC</text>
<text x="343.4" y="15.6" font-size="27" font-weight="bold" fill="#231f20">e</text>
<path d="M418.74,234.90 L418.74,234.90 L420.95,234.90 L420.95,229.95 L423.16,229.95 L423.16,223.08 L425.38,223.08 L425.38,212.98 L427.59,212.98 L427.59,199.72 L429.80,199.72 L429.80,174.58 L432.02,174.58 L432.02,156.88 L434.23,156.88 L434.23,143.23 L436.44,143.23 L436.44,138.73 L438.66,138.73 L438.66,144.24 L440.87,144.24 L440.87,139.76 L443.09,139.76 L443.09,149.54 L445.30,149.54 L445.30,163.15 L447.51,163.15 L447.51,174.95 L449.73,174.95 L449.73,180.78 L451.94,180.78 L451.94,183.75 L454.15,183.75 L454.15,183.93 L456.37,183.93 L456.37,181.27 L458.58,181.27 L458.58,174.91 L460.79,174.91 L460.79,161.34 L463.01,161.34 L463.01,147.79 L465.22,147.79 L465.22,141.70 L467.44,141.70 L467.44,136.86 L469.65,136.86 L469.65,137.25 L471.86,137.25 L471.86,141.66 L474.08,141.66 L474.08,152.58 L476.29,152.58 L476.29,155.99 L478.50,155.99 L478.50,163.62 L480.72,163.62 L480.72,163.87 L482.93,163.87 L482.93,169.13 L485.14,169.13 L485.14,174.48 L487.36,174.48 L487.36,174.20 L489.57,174.20 L489.57,172.06 L491.78,172.06 L491.78,168.13 L494.00,168.13 L494.00,158.47 L496.21,158.47 L496.21,150.47 L498.43,150.47 L498.43,146.37 L500.64,146.37 L500.64,136.52 L502.85,136.52 L502.85,125.00 L505.07,125.00 L505.07,117.27 L507.28,117.27 L507.28,108.21 L509.49,108.21 L509.49,108.46 L511.71,108.46 L511.71,102.38 L513.92,102.38 L513.92,106.51 L516.13,106.51 L516.13,110.12 L518.35,110.12 L518.35,120.17 L520.56,120.17 L520.56,137.64 L522.78,137.64 L522.78,145.84 L524.99,145.84 L524.99,160.05 L527.20,160.05 L527.20,174.03 L529.42,174.03 L529.42,186.30 L531.63,186.30 L531.63,192.22 L533.84,192.22 L533.84,197.24 L536.06,197.24 L536.06,203.92 L538.27,203.92 L538.27,204.13 L540.48,204.13 L540.48,210.08 L542.70,210.08 L542.70,210.80 L544.91,210.80 L544.91,212.64 L547.12,212.64 L547.12,210.34 L549.34,210.34 L549.34,215.18 L551.55,215.18 L551.55,212.67 L553.77,212.67 L553.77,211.32 L555.98,211.32 L555.98,212.99 L558.19,212.99 L558.19,219.44 L560.41,219.44 L560.41,216.72 L562.62,216.72 L562.62,219.35 L564.83,219.35 L564.83,221.28 L567.05,221.28 L567.05,223.58 L569.26,223.58 L569.26,221.95 L571.47,221.95 L571.47,224.29 L573.69,224.29 L573.69,222.91 L575.90,222.91 L575.90,229.07 L578.12,229.07 L578.12,227.27 L580.33,227.27 L580.33,228.81 L582.54,228.81 L582.54,223.96 L584.76,223.96 L584.76,229.84 L586.97,229.84 L586.97,226.76 L589.18,226.76 L589.18,228.19 L591.40,228.19 L591.40,228.37 L593.61,228.37 L593.61,229.26 L595.82,229.26 L595.82,228.97 L598.04,228.97 L598.04,229.52 L600.25,229.52 L600.25,228.53 L602.46,228.53 L602.46,230.84 L604.68,230.84 L604.68,230.92 L606.89,230.92 L606.89,231.09 L609.11,231.09 L609.11,230.55 L611.32,230.55 L611.32,230.51 L613.53,230.51 L613.53,232.13 L615.75,232.13 L615.75,231.22 L617.96,231.22 L617.96,230.30 L620.17,230.30 L620.17,231.88 L622.39,231.88 L622.39,233.28 L624.60,233.28 L624.60,231.44 L626.81,231.44 L626.81,232.45 L629.03,232.45 L629.03,231.98 L631.24,231.98 L631.24,232.18 L633.46,232.18 L633.46,234.12 L635.67,234.12 L635.67,233.52 L637.88,233.52 L637.88,233.07 L640.10,233.07 L640.10,234.20 L642.31,234.20 L642.31,234.24 L644.52,234.24 L644.52,232.94 L646.74,232.94 L646.74,233.32 L648.95,233.32 L648.95,233.74 L651.16,233.74 L651.16,232.39 L653.38,232.39 L653.38,233.50 L655.59,233.50 L655.59,234.90 L657.80,234.90 L657.80,233.57 L660.02,233.57 L660.02,234.52 L662.23,234.52 L662.23,233.73 L664.45,233.73 L664.45,234.84 L666.66,234.84 L666.66,233.56 L668.87,233.56 L668.87,234.90 L671.09,234.90 L671.09,234.90 L673.30,234.90 L673.30,234.90 Z" fill="#a7aead" stroke="none" stroke-width="1.0"/>
<path d="M396.60,234.90 L397.15,234.90 L397.71,234.90 L398.26,234.90 L398.81,234.90 L399.37,234.90 L399.92,234.90 L400.47,234.90 L401.03,234.90 L401.58,234.90 L402.13,234.89 L402.69,234.89 L403.24,234.89 L403.79,234.89 L404.35,234.88 L404.90,234.88 L405.45,234.87 L406.01,234.87 L406.56,234.86 L407.11,234.84 L407.67,234.83 L408.22,234.81 L408.77,234.79 L409.33,234.76 L409.88,234.72 L410.44,234.68 L410.99,234.63 L411.54,234.56 L412.10,234.49 L412.65,234.39 L413.20,234.28 L413.76,234.15 L414.31,233.99 L414.86,233.80 L415.42,233.58 L415.97,233.32 L416.52,233.01 L417.08,232.66 L417.63,232.25 L418.18,231.78 L418.74,231.23 L419.29,230.61 L419.84,229.90 L420.40,229.10 L420.95,228.20 L421.50,227.18 L422.06,226.05 L422.61,224.78 L423.16,223.39 L423.72,221.85 L424.27,220.16 L424.82,218.33 L425.38,216.33 L425.93,214.18 L426.48,211.86 L427.04,209.39 L427.59,206.76 L428.14,203.98 L428.70,201.06 L429.25,198.01 L429.80,194.84 L430.36,191.57 L430.91,188.21 L431.46,184.79 L432.02,181.33 L432.57,177.86 L433.12,174.39 L433.68,170.96 L434.23,167.61 L434.78,164.35 L435.34,161.22 L435.89,158.26 L436.44,155.49 L437.00,152.93 L437.55,150.63 L438.11,148.59 L438.66,146.86 L439.21,145.44 L439.77,144.35 L440.32,143.60 L440.87,143.21 L441.43,143.17 L441.98,143.49 L442.53,144.17 L443.09,145.19 L443.64,146.55 L444.19,148.22 L444.75,150.20 L445.30,152.45 L445.85,154.96 L446.41,157.69 L446.96,160.62 L447.51,163.71 L448.07,166.95 L448.62,170.29 L449.17,173.70 L449.73,177.16 L450.28,180.64 L450.83,184.10 L451.39,187.53 L451.94,190.91 L452.49,194.20 L453.05,197.39 L453.60,200.46 L454.15,203.41 L454.71,206.22 L455.26,208.87 L455.81,211.38 L456.37,213.73 L456.92,215.91 L457.47,217.94 L458.03,219.81 L458.58,221.52 L459.13,223.09 L459.69,224.52 L460.24,225.80 L460.79,226.96 L461.35,228.00 L461.90,228.93 L462.45,229.75 L463.01,230.48 L463.56,231.11 L464.11,231.67 L464.67,232.16 L465.22,232.58 L465.78,232.95 L466.33,233.26 L466.88,233.53 L467.44,233.76 L467.99,233.95 L468.54,234.12 L469.10,234.26 L469.65,234.37 L470.20,234.47 L470.76,234.55 L471.31,234.62 L471.86,234.67 L472.42,234.72 L472.97,234.75 L473.52,234.78 L474.08,234.81 L474.63,234.83 L475.18,234.84 L475.74,234.85 L476.29,234.86 L476.84,234.87 L477.40,234.88 L477.95,234.88 L478.50,234.89 L479.06,234.89 L479.61,234.89 L480.16,234.89 L480.72,234.90 L481.27,234.90 L481.82,234.90 L482.38,234.90 L482.93,234.90 L483.48,234.90 L484.04,234.90 L484.59,234.90 L485.14,234.90 L485.70,234.90 L486.25,234.90 L486.80,234.90 L487.36,234.90 L487.91,234.90 L488.46,234.90 L489.02,234.90 L489.57,234.90 L490.12,234.90 L490.68,234.90 L491.23,234.90 L491.78,234.90 L492.34,234.90 L492.89,234.90 L493.45,234.90 L494.00,234.90 L494.55,234.90 L495.11,234.90 L495.66,234.90 L496.21,234.90 L496.77,234.90 L497.32,234.90 L497.87,234.90 L498.43,234.90 L498.98,234.90 L499.53,234.90 L500.09,234.90 L500.64,234.90 L501.19,234.90 L501.75,234.90 L502.30,234.90 L502.85,234.90 L503.41,234.90 L503.96,234.90 L504.51,234.90 L505.07,234.90 L505.62,234.90 L506.17,234.90 L506.73,234.90 L507.28,234.90 L507.83,234.90 L508.39,234.90 L508.94,234.90 L509.49,234.90 L510.05,234.90 L510.60,234.90 L511.15,234.90 L511.71,234.90 L512.26,234.90 L512.81,234.90 L513.37,234.90 L513.92,234.90 L514.47,234.90 L515.03,234.90 L515.58,234.90 L516.13,234.90 L516.69,234.90 L517.24,234.90 L517.79,234.90 L518.35,234.90 L518.90,234.90 L519.45,234.90 L520.01,234.90 L520.56,234.90 L521.12,234.90 L521.67,234.90 L522.22,234.90 L522.78,234.90 L523.33,234.90 L523.88,234.90 L524.44,234.90 L524.99,234.90 L525.54,234.90 L526.10,234.90 L526.65,234.90 L527.20,234.90 L527.76,234.90 L528.31,234.90 L528.86,234.90 L529.42,234.90 L529.97,234.90 L530.52,234.90 L531.08,234.90 L531.63,234.90 L532.18,234.90 L532.74,234.90 L533.29,234.90 L533.84,234.90 L534.40,234.90 L534.95,234.90 L535.50,234.90 L536.06,234.90 L536.61,234.90 L537.16,234.90 L537.72,234.90 L538.27,234.90 L538.82,234.90 L539.38,234.90 L539.93,234.90 L540.48,234.90 L541.04,234.90 L541.59,234.90 L542.14,234.90 L542.70,234.90 L543.25,234.90 L543.80,234.90 L544.36,234.90 L544.91,234.90 L545.46,234.90 L546.02,234.90 L546.57,234.90 L547.12,234.90 L547.68,234.90 L548.23,234.90 L548.79,234.90 L549.34,234.90 L549.89,234.90 L550.45,234.90 L551.00,234.90 L551.55,234.90 L552.11,234.90 L552.66,234.90 L553.21,234.90 L553.77,234.90 L554.32,234.90 L554.87,234.90 L555.43,234.90 L555.98,234.90 L556.53,234.90 L557.09,234.90 L557.64,234.90 L558.19,234.90 L558.75,234.90 L559.30,234.90 L559.85,234.90 L560.41,234.90 L560.96,234.90 L561.51,234.90 L562.07,234.90 L562.62,234.90 L563.17,234.90 L563.73,234.90 L564.28,234.90 L564.83,234.90 L565.39,234.90 L565.94,234.90 L566.49,234.90 L567.05,234.90 L567.60,234.90 L568.15,234.90 L568.71,234.90 L569.26,234.90 L569.81,234.90 L570.37,234.90 L570.92,234.90 L571.47,234.90 L572.03,234.90 L572.58,234.90 L573.13,234.90 L573.69,234.90 L574.24,234.90 L574.79,234.90 L575.35,234.90 L575.90,234.90 L576.46,234.90 L577.01,234.90 L577.56,234.90 L578.12,234.90 L578.67,234.90 L579.22,234.90 L579.78,234.90 L580.33,234.90 L580.88,234.90 L581.44,234.90 L581.99,234.90 L582.54,234.90 L583.10,234.90 L583.65,234.90 L584.20,234.90 L584.76,234.90 L585.31,234.90 L585.86,234.90 L586.42,234.90 L586.97,234.90 L587.52,234.90 L588.08,234.90 L588.63,234.90 L589.18,234.90 L589.74,234.90 L590.29,234.90 L590.84,234.90 L591.40,234.90 L591.95,234.90 L592.50,234.90 L593.06,234.90 L593.61,234.90 L594.16,234.90 L594.72,234.90 L595.27,234.90 L595.82,234.90 L596.38,234.90 L596.93,234.90 L597.48,234.90 L598.04,234.90 L598.59,234.90 L599.14,234.90 L599.70,234.90 L600.25,234.90 L600.80,234.90 L601.36,234.90 L601.91,234.90 L602.46,234.90 L603.02,234.90 L603.57,234.90 L604.12,234.90 L604.68,234.90 L605.23,234.90 L605.79,234.90 L606.34,234.90 L606.89,234.90 L607.45,234.90 L608.00,234.90 L608.55,234.90 L609.11,234.90 L609.66,234.90 L610.21,234.90 L610.77,234.90 L611.32,234.90 L611.87,234.90 L612.43,234.90 L612.98,234.90 L613.53,234.90 L614.09,234.90 L614.64,234.90 L615.19,234.90 L615.75,234.90 L616.30,234.90 L616.85,234.90 L617.41,234.90 L617.96,234.90 L618.51,234.90 L619.07,234.90 L619.62,234.90 L620.17,234.90 L620.73,234.90 L621.28,234.90 L621.83,234.90 L622.39,234.90 L622.94,234.90 L623.49,234.90 L624.05,234.90 L624.60,234.90 L625.15,234.90 L625.71,234.90 L626.26,234.90 L626.81,234.90 L627.37,234.90 L627.92,234.90 L628.47,234.90 L629.03,234.90 L629.58,234.90 L630.13,234.90 L630.69,234.90 L631.24,234.90 L631.80,234.90 L632.35,234.90 L632.90,234.90 L633.46,234.90 L634.01,234.90 L634.56,234.90 L635.12,234.90 L635.67,234.90 L636.22,234.90 L636.78,234.90 L637.33,234.90 L637.88,234.90 L638.44,234.90 L638.99,234.90 L639.54,234.90 L640.10,234.90 L640.65,234.90 L641.20,234.90 L641.76,234.90 L642.31,234.90 L642.86,234.90 L643.42,234.90 L643.97,234.90 L644.52,234.90 L645.08,234.90 L645.63,234.90 L646.18,234.90 L646.74,234.90 L647.29,234.90 L647.84,234.90 L648.40,234.90 L648.95,234.90 L649.50,234.90 L650.06,234.90 L650.61,234.90 L651.16,234.90 L651.72,234.90 L652.27,234.90 L652.82,234.90 L653.38,234.90 L653.93,234.90 L654.48,234.90 L655.04,234.90 L655.59,234.90 L656.14,234.90 L656.70,234.90 L657.25,234.90 L657.80,234.90 L658.36,234.90 L658.91,234.90 L659.47,234.90 L660.02,234.90 L660.57,234.90 L661.13,234.90 L661.68,234.90 L662.23,234.90 L662.79,234.90 L663.34,234.90 L663.89,234.90 L664.45,234.90 L665.00,234.90 L665.55,234.90 L666.11,234.90 L666.66,234.90 L667.21,234.90 L667.77,234.90 L668.32,234.90 L668.87,234.90 L669.43,234.90 L669.98,234.90 L670.53,234.90 L671.09,234.90 L671.64,234.90 L672.19,234.90 L672.75,234.90 L673.30,234.90" fill="none" stroke="#111" stroke-width="1.15"/>
<path d="M396.60,234.90 L397.15,234.90 L397.71,234.90 L398.26,234.90 L398.81,234.90 L399.37,234.90 L399.92,234.89 L400.47,234.89 L401.03,234.89 L401.58,234.89 L402.13,234.89 L402.69,234.89 L403.24,234.89 L403.79,234.89 L404.35,234.88 L404.90,234.88 L405.45,234.88 L406.01,234.87 L406.56,234.87 L407.11,234.87 L407.67,234.86 L408.22,234.86 L408.77,234.85 L409.33,234.84 L409.88,234.83 L410.44,234.83 L410.99,234.82 L411.54,234.80 L412.10,234.79 L412.65,234.78 L413.20,234.76 L413.76,234.74 L414.31,234.72 L414.86,234.70 L415.42,234.68 L415.97,234.65 L416.52,234.62 L417.08,234.59 L417.63,234.55 L418.18,234.51 L418.74,234.46 L419.29,234.41 L419.84,234.36 L420.40,234.29 L420.95,234.23 L421.50,234.15 L422.06,234.07 L422.61,233.98 L423.16,233.88 L423.72,233.77 L424.27,233.66 L424.82,233.53 L425.38,233.39 L425.93,233.24 L426.48,233.07 L427.04,232.89 L427.59,232.69 L428.14,232.48 L428.70,232.25 L429.25,232.01 L429.80,231.74 L430.36,231.45 L430.91,231.14 L431.46,230.81 L432.02,230.45 L432.57,230.06 L433.12,229.65 L433.68,229.21 L434.23,228.74 L434.78,228.24 L435.34,227.70 L435.89,227.14 L436.44,226.53 L437.00,225.89 L437.55,225.21 L438.11,224.49 L438.66,223.73 L439.21,222.92 L439.77,222.08 L440.32,221.18 L440.87,220.25 L441.43,219.26 L441.98,218.23 L442.53,217.15 L443.09,216.02 L443.64,214.84 L444.19,213.62 L444.75,212.34 L445.30,211.01 L445.85,209.63 L446.41,208.20 L446.96,206.72 L447.51,205.20 L448.07,203.62 L448.62,202.00 L449.17,200.33 L449.73,198.62 L450.28,196.86 L450.83,195.07 L451.39,193.24 L451.94,191.37 L452.49,189.46 L453.05,187.53 L453.60,185.57 L454.15,183.59 L454.71,181.58 L455.26,179.56 L455.81,177.52 L456.37,175.48 L456.92,173.43 L457.47,171.38 L458.03,169.34 L458.58,167.31 L459.13,165.29 L459.69,163.29 L460.24,161.31 L460.79,159.36 L461.35,157.45 L461.90,155.58 L462.45,153.75 L463.01,151.97 L463.56,150.25 L464.11,148.59 L464.67,146.99 L465.22,145.47 L465.78,144.01 L466.33,142.64 L466.88,141.35 L467.44,140.15 L467.99,139.03 L468.54,138.02 L469.10,137.10 L469.65,136.28 L470.20,135.56 L470.76,134.95 L471.31,134.45 L471.86,134.06 L472.42,133.78 L472.97,133.61 L473.52,133.56 L474.08,133.61 L474.63,133.78 L475.18,134.06 L475.74,134.45 L476.29,134.95 L476.84,135.56 L477.40,136.28 L477.95,137.10 L478.50,138.02 L479.06,139.03 L479.61,140.15 L480.16,141.35 L480.72,142.64 L481.27,144.01 L481.82,145.47 L482.38,146.99 L482.93,148.59 L483.48,150.25 L484.04,151.97 L484.59,153.75 L485.14,155.58 L485.70,157.45 L486.25,159.36 L486.80,161.31 L487.36,163.29 L487.91,165.29 L488.46,167.31 L489.02,169.34 L489.57,171.38 L490.12,173.43 L490.68,175.48 L491.23,177.52 L491.78,179.56 L492.34,181.58 L492.89,183.59 L493.45,185.57 L494.00,187.53 L494.55,189.46 L495.11,191.37 L495.66,193.24 L496.21,195.07 L496.77,196.86 L497.32,198.62 L497.87,200.33 L498.43,202.00 L498.98,203.62 L499.53,205.20 L500.09,206.72 L500.64,208.20 L501.19,209.63 L501.75,211.01 L502.30,212.34 L502.85,213.62 L503.41,214.84 L503.96,216.02 L504.51,217.15 L505.07,218.23 L505.62,219.26 L506.17,220.25 L506.73,221.18 L507.28,222.08 L507.83,222.92 L508.39,223.73 L508.94,224.49 L509.49,225.21 L510.05,225.89 L510.60,226.53 L511.15,227.14 L511.71,227.70 L512.26,228.24 L512.81,228.74 L513.37,229.21 L513.92,229.65 L514.47,230.06 L515.03,230.45 L515.58,230.81 L516.13,231.14 L516.69,231.45 L517.24,231.74 L517.79,232.01 L518.35,232.25 L518.90,232.48 L519.45,232.69 L520.01,232.89 L520.56,233.07 L521.12,233.24 L521.67,233.39 L522.22,233.53 L522.78,233.66 L523.33,233.77 L523.88,233.88 L524.44,233.98 L524.99,234.07 L525.54,234.15 L526.10,234.23 L526.65,234.29 L527.20,234.36 L527.76,234.41 L528.31,234.46 L528.86,234.51 L529.42,234.55 L529.97,234.59 L530.52,234.62 L531.08,234.65 L531.63,234.68 L532.18,234.70 L532.74,234.72 L533.29,234.74 L533.84,234.76 L534.40,234.78 L534.95,234.79 L535.50,234.80 L536.06,234.82 L536.61,234.83 L537.16,234.83 L537.72,234.84 L538.27,234.85 L538.82,234.86 L539.38,234.86 L539.93,234.87 L540.48,234.87 L541.04,234.87 L541.59,234.88 L542.14,234.88 L542.70,234.88 L543.25,234.89 L543.80,234.89 L544.36,234.89 L544.91,234.89 L545.46,234.89 L546.02,234.89 L546.57,234.89 L547.12,234.89 L547.68,234.90 L548.23,234.90 L548.79,234.90 L549.34,234.90 L549.89,234.90 L550.45,234.90 L551.00,234.90 L551.55,234.90 L552.11,234.90 L552.66,234.90 L553.21,234.90 L553.77,234.90 L554.32,234.90 L554.87,234.90 L555.43,234.90 L555.98,234.90 L556.53,234.90 L557.09,234.90 L557.64,234.90 L558.19,234.90 L558.75,234.90 L559.30,234.90 L559.85,234.90 L560.41,234.90 L560.96,234.90 L561.51,234.90 L562.07,234.90 L562.62,234.90 L563.17,234.90 L563.73,234.90 L564.28,234.90 L564.83,234.90 L565.39,234.90 L565.94,234.90 L566.49,234.90 L567.05,234.90 L567.60,234.90 L568.15,234.90 L568.71,234.90 L569.26,234.90 L569.81,234.90 L570.37,234.90 L570.92,234.90 L571.47,234.90 L572.03,234.90 L572.58,234.90 L573.13,234.90 L573.69,234.90 L574.24,234.90 L574.79,234.90 L575.35,234.90 L575.90,234.90 L576.46,234.90 L577.01,234.90 L577.56,234.90 L578.12,234.90 L578.67,234.90 L579.22,234.90 L579.78,234.90 L580.33,234.90 L580.88,234.90 L581.44,234.90 L581.99,234.90 L582.54,234.90 L583.10,234.90 L583.65,234.90 L584.20,234.90 L584.76,234.90 L585.31,234.90 L585.86,234.90 L586.42,234.90 L586.97,234.90 L587.52,234.90 L588.08,234.90 L588.63,234.90 L589.18,234.90 L589.74,234.90 L590.29,234.90 L590.84,234.90 L591.40,234.90 L591.95,234.90 L592.50,234.90 L593.06,234.90 L593.61,234.90 L594.16,234.90 L594.72,234.90 L595.27,234.90 L595.82,234.90 L596.38,234.90 L596.93,234.90 L597.48,234.90 L598.04,234.90 L598.59,234.90 L599.14,234.90 L599.70,234.90 L600.25,234.90 L600.80,234.90 L601.36,234.90 L601.91,234.90 L602.46,234.90 L603.02,234.90 L603.57,234.90 L604.12,234.90 L604.68,234.90 L605.23,234.90 L605.79,234.90 L606.34,234.90 L606.89,234.90 L607.45,234.90 L608.00,234.90 L608.55,234.90 L609.11,234.90 L609.66,234.90 L610.21,234.90 L610.77,234.90 L611.32,234.90 L611.87,234.90 L612.43,234.90 L612.98,234.90 L613.53,234.90 L614.09,234.90 L614.64,234.90 L615.19,234.90 L615.75,234.90 L616.30,234.90 L616.85,234.90 L617.41,234.90 L617.96,234.90 L618.51,234.90 L619.07,234.90 L619.62,234.90 L620.17,234.90 L620.73,234.90 L621.28,234.90 L621.83,234.90 L622.39,234.90 L622.94,234.90 L623.49,234.90 L624.05,234.90 L624.60,234.90 L625.15,234.90 L625.71,234.90 L626.26,234.90 L626.81,234.90 L627.37,234.90 L627.92,234.90 L628.47,234.90 L629.03,234.90 L629.58,234.90 L630.13,234.90 L630.69,234.90 L631.24,234.90 L631.80,234.90 L632.35,234.90 L632.90,234.90 L633.46,234.90 L634.01,234.90 L634.56,234.90 L635.12,234.90 L635.67,234.90 L636.22,234.90 L636.78,234.90 L637.33,234.90 L637.88,234.90 L638.44,234.90 L638.99,234.90 L639.54,234.90 L640.10,234.90 L640.65,234.90 L641.20,234.90 L641.76,234.90 L642.31,234.90 L642.86,234.90 L643.42,234.90 L643.97,234.90 L644.52,234.90 L645.08,234.90 L645.63,234.90 L646.18,234.90 L646.74,234.90 L647.29,234.90 L647.84,234.90 L648.40,234.90 L648.95,234.90 L649.50,234.90 L650.06,234.90 L650.61,234.90 L651.16,234.90 L651.72,234.90 L652.27,234.90 L652.82,234.90 L653.38,234.90 L653.93,234.90 L654.48,234.90 L655.04,234.90 L655.59,234.90 L656.14,234.90 L656.70,234.90 L657.25,234.90 L657.80,234.90 L658.36,234.90 L658.91,234.90 L659.47,234.90 L660.02,234.90 L660.57,234.90 L661.13,234.90 L661.68,234.90 L662.23,234.90 L662.79,234.90 L663.34,234.90 L663.89,234.90 L664.45,234.90 L665.00,234.90 L665.55,234.90 L666.11,234.90 L666.66,234.90 L667.21,234.90 L667.77,234.90 L668.32,234.90 L668.87,234.90 L669.43,234.90 L669.98,234.90 L670.53,234.90 L671.09,234.90 L671.64,234.90 L672.19,234.90 L672.75,234.90 L673.30,234.90" fill="none" stroke="#111" stroke-width="1.15"/>
<path d="M396.60,234.90 L397.15,234.90 L397.71,234.90 L398.26,234.90 L398.81,234.90 L399.37,234.90 L399.92,234.90 L400.47,234.90 L401.03,234.90 L401.58,234.90 L402.13,234.90 L402.69,234.90 L403.24,234.90 L403.79,234.90 L404.35,234.90 L404.90,234.90 L405.45,234.90 L406.01,234.90 L406.56,234.90 L407.11,234.90 L407.67,234.90 L408.22,234.90 L408.77,234.90 L409.33,234.90 L409.88,234.90 L410.44,234.90 L410.99,234.90 L411.54,234.90 L412.10,234.90 L412.65,234.90 L413.20,234.90 L413.76,234.90 L414.31,234.90 L414.86,234.90 L415.42,234.90 L415.97,234.90 L416.52,234.90 L417.08,234.90 L417.63,234.90 L418.18,234.90 L418.74,234.90 L419.29,234.90 L419.84,234.90 L420.40,234.90 L420.95,234.90 L421.50,234.90 L422.06,234.90 L422.61,234.90 L423.16,234.90 L423.72,234.90 L424.27,234.90 L424.82,234.90 L425.38,234.90 L425.93,234.90 L426.48,234.90 L427.04,234.90 L427.59,234.90 L428.14,234.90 L428.70,234.90 L429.25,234.90 L429.80,234.90 L430.36,234.90 L430.91,234.90 L431.46,234.90 L432.02,234.90 L432.57,234.90 L433.12,234.90 L433.68,234.90 L434.23,234.90 L434.78,234.90 L435.34,234.90 L435.89,234.90 L436.44,234.90 L437.00,234.90 L437.55,234.90 L438.11,234.90 L438.66,234.90 L439.21,234.89 L439.77,234.89 L440.32,234.89 L440.87,234.89 L441.43,234.89 L441.98,234.89 L442.53,234.89 L443.09,234.88 L443.64,234.88 L444.19,234.88 L444.75,234.88 L445.30,234.87 L445.85,234.87 L446.41,234.86 L446.96,234.86 L447.51,234.85 L448.07,234.84 L448.62,234.83 L449.17,234.82 L449.73,234.81 L450.28,234.80 L450.83,234.79 L451.39,234.77 L451.94,234.76 L452.49,234.74 L453.05,234.71 L453.60,234.69 L454.15,234.66 L454.71,234.63 L455.26,234.60 L455.81,234.56 L456.37,234.52 L456.92,234.47 L457.47,234.41 L458.03,234.36 L458.58,234.29 L459.13,234.22 L459.69,234.14 L460.24,234.05 L460.79,233.95 L461.35,233.84 L461.90,233.72 L462.45,233.59 L463.01,233.45 L463.56,233.29 L464.11,233.12 L464.67,232.93 L465.22,232.73 L465.78,232.50 L466.33,232.26 L466.88,231.99 L467.44,231.71 L467.99,231.39 L468.54,231.05 L469.10,230.69 L469.65,230.29 L470.20,229.87 L470.76,229.41 L471.31,228.91 L471.86,228.38 L472.42,227.81 L472.97,227.20 L473.52,226.55 L474.08,225.85 L474.63,225.10 L475.18,224.31 L475.74,223.47 L476.29,222.57 L476.84,221.62 L477.40,220.61 L477.95,219.54 L478.50,218.42 L479.06,217.23 L479.61,215.98 L480.16,214.67 L480.72,213.29 L481.27,211.84 L481.82,210.32 L482.38,208.74 L482.93,207.09 L483.48,205.37 L484.04,203.58 L484.59,201.72 L485.14,199.79 L485.70,197.79 L486.25,195.73 L486.80,193.60 L487.36,191.41 L487.91,189.16 L488.46,186.84 L489.02,184.47 L489.57,182.05 L490.12,179.57 L490.68,177.05 L491.23,174.48 L491.78,171.88 L492.34,169.24 L492.89,166.57 L493.45,163.88 L494.00,161.16 L494.55,158.44 L495.11,155.71 L495.66,152.98 L496.21,150.26 L496.77,147.55 L497.32,144.86 L497.87,142.20 L498.43,139.57 L498.98,136.99 L499.53,134.45 L500.09,131.97 L500.64,129.56 L501.19,127.22 L501.75,124.95 L502.30,122.77 L502.85,120.69 L503.41,118.70 L503.96,116.82 L504.51,115.05 L505.07,113.40 L505.62,111.88 L506.17,110.48 L506.73,109.22 L507.28,108.09 L507.83,107.11 L508.39,106.27 L508.94,105.58 L509.49,105.04 L510.05,104.65 L510.60,104.42 L511.15,104.34 L511.71,104.42 L512.26,104.65 L512.81,105.04 L513.37,105.58 L513.92,106.27 L514.47,107.11 L515.03,108.09 L515.58,109.22 L516.13,110.48 L516.69,111.88 L517.24,113.40 L517.79,115.05 L518.35,116.82 L518.90,118.70 L519.45,120.69 L520.01,122.77 L520.56,124.95 L521.12,127.22 L521.67,129.56 L522.22,131.97 L522.78,134.45 L523.33,136.99 L523.88,139.57 L524.44,142.20 L524.99,144.86 L525.54,147.55 L526.10,150.26 L526.65,152.98 L527.20,155.71 L527.76,158.44 L528.31,161.16 L528.86,163.88 L529.42,166.57 L529.97,169.24 L530.52,171.88 L531.08,174.48 L531.63,177.05 L532.18,179.57 L532.74,182.05 L533.29,184.47 L533.84,186.84 L534.40,189.16 L534.95,191.41 L535.50,193.60 L536.06,195.73 L536.61,197.79 L537.16,199.79 L537.72,201.72 L538.27,203.58 L538.82,205.37 L539.38,207.09 L539.93,208.74 L540.48,210.32 L541.04,211.84 L541.59,213.29 L542.14,214.67 L542.70,215.98 L543.25,217.23 L543.80,218.42 L544.36,219.54 L544.91,220.61 L545.46,221.62 L546.02,222.57 L546.57,223.47 L547.12,224.31 L547.68,225.10 L548.23,225.85 L548.79,226.55 L549.34,227.20 L549.89,227.81 L550.45,228.38 L551.00,228.91 L551.55,229.41 L552.11,229.87 L552.66,230.29 L553.21,230.69 L553.77,231.05 L554.32,231.39 L554.87,231.71 L555.43,231.99 L555.98,232.26 L556.53,232.50 L557.09,232.73 L557.64,232.93 L558.19,233.12 L558.75,233.29 L559.30,233.45 L559.85,233.59 L560.41,233.72 L560.96,233.84 L561.51,233.95 L562.07,234.05 L562.62,234.14 L563.17,234.22 L563.73,234.29 L564.28,234.36 L564.83,234.41 L565.39,234.47 L565.94,234.52 L566.49,234.56 L567.05,234.60 L567.60,234.63 L568.15,234.66 L568.71,234.69 L569.26,234.71 L569.81,234.74 L570.37,234.76 L570.92,234.77 L571.47,234.79 L572.03,234.80 L572.58,234.81 L573.13,234.82 L573.69,234.83 L574.24,234.84 L574.79,234.85 L575.35,234.86 L575.90,234.86 L576.46,234.87 L577.01,234.87 L577.56,234.88 L578.12,234.88 L578.67,234.88 L579.22,234.88 L579.78,234.89 L580.33,234.89 L580.88,234.89 L581.44,234.89 L581.99,234.89 L582.54,234.89 L583.10,234.89 L583.65,234.90 L584.20,234.90 L584.76,234.90 L585.31,234.90 L585.86,234.90 L586.42,234.90 L586.97,234.90 L587.52,234.90 L588.08,234.90 L588.63,234.90 L589.18,234.90 L589.74,234.90 L590.29,234.90 L590.84,234.90 L591.40,234.90 L591.95,234.90 L592.50,234.90 L593.06,234.90 L593.61,234.90 L594.16,234.90 L594.72,234.90 L595.27,234.90 L595.82,234.90 L596.38,234.90 L596.93,234.90 L597.48,234.90 L598.04,234.90 L598.59,234.90 L599.14,234.90 L599.70,234.90 L600.25,234.90 L600.80,234.90 L601.36,234.90 L601.91,234.90 L602.46,234.90 L603.02,234.90 L603.57,234.90 L604.12,234.90 L604.68,234.90 L605.23,234.90 L605.79,234.90 L606.34,234.90 L606.89,234.90 L607.45,234.90 L608.00,234.90 L608.55,234.90 L609.11,234.90 L609.66,234.90 L610.21,234.90 L610.77,234.90 L611.32,234.90 L611.87,234.90 L612.43,234.90 L612.98,234.90 L613.53,234.90 L614.09,234.90 L614.64,234.90 L615.19,234.90 L615.75,234.90 L616.30,234.90 L616.85,234.90 L617.41,234.90 L617.96,234.90 L618.51,234.90 L619.07,234.90 L619.62,234.90 L620.17,234.90 L620.73,234.90 L621.28,234.90 L621.83,234.90 L622.39,234.90 L622.94,234.90 L623.49,234.90 L624.05,234.90 L624.60,234.90 L625.15,234.90 L625.71,234.90 L626.26,234.90 L626.81,234.90 L627.37,234.90 L627.92,234.90 L628.47,234.90 L629.03,234.90 L629.58,234.90 L630.13,234.90 L630.69,234.90 L631.24,234.90 L631.80,234.90 L632.35,234.90 L632.90,234.90 L633.46,234.90 L634.01,234.90 L634.56,234.90 L635.12,234.90 L635.67,234.90 L636.22,234.90 L636.78,234.90 L637.33,234.90 L637.88,234.90 L638.44,234.90 L638.99,234.90 L639.54,234.90 L640.10,234.90 L640.65,234.90 L641.20,234.90 L641.76,234.90 L642.31,234.90 L642.86,234.90 L643.42,234.90 L643.97,234.90 L644.52,234.90 L645.08,234.90 L645.63,234.90 L646.18,234.90 L646.74,234.90 L647.29,234.90 L647.84,234.90 L648.40,234.90 L648.95,234.90 L649.50,234.90 L650.06,234.90 L650.61,234.90 L651.16,234.90 L651.72,234.90 L652.27,234.90 L652.82,234.90 L653.38,234.90 L653.93,234.90 L654.48,234.90 L655.04,234.90 L655.59,234.90 L656.14,234.90 L656.70,234.90 L657.25,234.90 L657.80,234.90 L658.36,234.90 L658.91,234.90 L659.47,234.90 L660.02,234.90 L660.57,234.90 L661.13,234.90 L661.68,234.90 L662.23,234.90 L662.79,234.90 L663.34,234.90 L663.89,234.90 L664.45,234.90 L665.00,234.90 L665.55,234.90 L666.11,234.90 L666.66,234.90 L667.21,234.90 L667.77,234.90 L668.32,234.90 L668.87,234.90 L669.43,234.90 L669.98,234.90 L670.53,234.90 L671.09,234.90 L671.64,234.90 L672.19,234.90 L672.75,234.90 L673.30,234.90" fill="none" stroke="#111" stroke-width="1.15"/>
<rect x="396.6" y="52.0" width="276.7" height="182.9" fill="none" stroke="#111" stroke-width="1.1"/>
<line x1="396.60" y1="234.90" x2="396.60" y2="238.00" stroke="#111" stroke-width="1.0"/>
<line x1="407.67" y1="234.90" x2="407.67" y2="237.00" stroke="#111" stroke-width="1.0"/>
<line x1="407.67" y1="52.00" x2="407.67" y2="54.20" stroke="#111" stroke-width="1.0"/>
<line x1="418.74" y1="234.90" x2="418.74" y2="237.00" stroke="#111" stroke-width="1.0"/>
<line x1="418.74" y1="52.00" x2="418.74" y2="54.20" stroke="#111" stroke-width="1.0"/>
<line x1="429.80" y1="234.90" x2="429.80" y2="237.00" stroke="#111" stroke-width="1.0"/>
<line x1="429.80" y1="52.00" x2="429.80" y2="54.20" stroke="#111" stroke-width="1.0"/>
<line x1="440.87" y1="234.90" x2="440.87" y2="237.00" stroke="#111" stroke-width="1.0"/>
<line x1="440.87" y1="52.00" x2="440.87" y2="54.20" stroke="#111" stroke-width="1.0"/>
<line x1="451.94" y1="234.90" x2="451.94" y2="238.00" stroke="#111" stroke-width="1.0"/>
<line x1="451.94" y1="52.00" x2="451.94" y2="54.20" stroke="#111" stroke-width="1.0"/>
<line x1="463.01" y1="234.90" x2="463.01" y2="237.00" stroke="#111" stroke-width="1.0"/>
<line x1="463.01" y1="52.00" x2="463.01" y2="54.20" stroke="#111" stroke-width="1.0"/>
<line x1="474.08" y1="234.90" x2="474.08" y2="237.00" stroke="#111" stroke-width="1.0"/>
<line x1="474.08" y1="52.00" x2="474.08" y2="54.20" stroke="#111" stroke-width="1.0"/>
<line x1="485.14" y1="234.90" x2="485.14" y2="237.00" stroke="#111" stroke-width="1.0"/>
<line x1="485.14" y1="52.00" x2="485.14" y2="54.20" stroke="#111" stroke-width="1.0"/>
<line x1="496.21" y1="234.90" x2="496.21" y2="237.00" stroke="#111" stroke-width="1.0"/>
<line x1="496.21" y1="52.00" x2="496.21" y2="54.20" stroke="#111" stroke-width="1.0"/>
<line x1="507.28" y1="234.90" x2="507.28" y2="238.00" stroke="#111" stroke-width="1.0"/>
<line x1="507.28" y1="52.00" x2="507.28" y2="54.20" stroke="#111" stroke-width="1.0"/>
<line x1="518.35" y1="234.90" x2="518.35" y2="237.00" stroke="#111" stroke-width="1.0"/>
<line x1="518.35" y1="52.00" x2="518.35" y2="54.20" stroke="#111" stroke-width="1.0"/>
<line x1="529.42" y1="234.90" x2="529.42" y2="237.00" stroke="#111" stroke-width="1.0"/>
<line x1="529.42" y1="52.00" x2="529.42" y2="54.20" stroke="#111" stroke-width="1.0"/>
<line x1="540.48" y1="234.90" x2="540.48" y2="237.00" stroke="#111" stroke-width="1.0"/>
<line x1="540.48" y1="52.00" x2="540.48" y2="54.20" stroke="#111" stroke-width="1.0"/>
<line x1="551.55" y1="234.90" x2="551.55" y2="237.00" stroke="#111" stroke-width="1.0"/>
<line x1="551.55" y1="52.00" x2="551.55" y2="54.20" stroke="#111" stroke-width="1.0"/>
<line x1="562.62" y1="234.90" x2="562.62" y2="238.00" stroke="#111" stroke-width="1.0"/>
<line x1="562.62" y1="52.00" x2="562.62" y2="54.20" stroke="#111" stroke-width="1.0"/>
<line x1="573.69" y1="234.90" x2="573.69" y2="237.00" stroke="#111" stroke-width="1.0"/>
<line x1="573.69" y1="52.00" x2="573.69" y2="54.20" stroke="#111" stroke-width="1.0"/>
<line x1="584.76" y1="234.90" x2="584.76" y2="237.00" stroke="#111" stroke-width="1.0"/>
<line x1="584.76" y1="52.00" x2="584.76" y2="54.20" stroke="#111" stroke-width="1.0"/>
<line x1="595.82" y1="234.90" x2="595.82" y2="237.00" stroke="#111" stroke-width="1.0"/>
<line x1="595.82" y1="52.00" x2="595.82" y2="54.20" stroke="#111" stroke-width="1.0"/>
<line x1="606.89" y1="234.90" x2="606.89" y2="237.00" stroke="#111" stroke-width="1.0"/>
<line x1="606.89" y1="52.00" x2="606.89" y2="54.20" stroke="#111" stroke-width="1.0"/>
<line x1="617.96" y1="234.90" x2="617.96" y2="238.00" stroke="#111" stroke-width="1.0"/>
<line x1="617.96" y1="52.00" x2="617.96" y2="54.20" stroke="#111" stroke-width="1.0"/>
<line x1="629.03" y1="234.90" x2="629.03" y2="237.00" stroke="#111" stroke-width="1.0"/>
<line x1="629.03" y1="52.00" x2="629.03" y2="54.20" stroke="#111" stroke-width="1.0"/>
<line x1="640.10" y1="234.90" x2="640.10" y2="237.00" stroke="#111" stroke-width="1.0"/>
<line x1="640.10" y1="52.00" x2="640.10" y2="54.20" stroke="#111" stroke-width="1.0"/>
<line x1="651.16" y1="234.90" x2="651.16" y2="237.00" stroke="#111" stroke-width="1.0"/>
<line x1="651.16" y1="52.00" x2="651.16" y2="54.20" stroke="#111" stroke-width="1.0"/>
<line x1="662.23" y1="234.90" x2="662.23" y2="237.00" stroke="#111" stroke-width="1.0"/>
<line x1="662.23" y1="52.00" x2="662.23" y2="54.20" stroke="#111" stroke-width="1.0"/>
<line x1="673.30" y1="234.90" x2="673.30" y2="238.00" stroke="#111" stroke-width="1.0"/>
<line x1="396.60" y1="189.25" x2="399.80" y2="189.25" stroke="#111" stroke-width="1.0"/>
<line x1="673.30" y1="189.25" x2="670.40" y2="189.25" stroke="#111" stroke-width="1.0"/>
<line x1="396.60" y1="143.60" x2="399.80" y2="143.60" stroke="#111" stroke-width="1.0"/>
<line x1="673.30" y1="143.60" x2="670.40" y2="143.60" stroke="#111" stroke-width="1.0"/>
<line x1="396.60" y1="97.95" x2="399.80" y2="97.95" stroke="#111" stroke-width="1.0"/>
<line x1="673.30" y1="97.95" x2="670.40" y2="97.95" stroke="#111" stroke-width="1.0"/>
<text x="388.4" y="239.9" font-size="14" font-weight="bold" fill="#111" text-anchor="end">0</text>
<text x="388.4" y="194.25" font-size="14" font-weight="bold" fill="#111" text-anchor="end">200</text>
<text x="388.4" y="148.60000000000002" font-size="14" font-weight="bold" fill="#111" text-anchor="end">400</text>
<text x="388.4" y="102.94999999999999" font-size="14" font-weight="bold" fill="#111" text-anchor="end">600</text>
<text x="388.4" y="57.30000000000001" font-size="14" font-weight="bold" fill="#111" text-anchor="end">800</text>
<text x="396.6" y="253.0" font-size="14" font-weight="bold" fill="#111" text-anchor="middle">0</text>
<text x="451.94000000000005" y="253.0" font-size="14" font-weight="bold" fill="#111" text-anchor="middle">100</text>
<text x="507.28000000000003" y="253.0" font-size="14" font-weight="bold" fill="#111" text-anchor="middle">200</text>
<text x="562.62" y="253.0" font-size="14" font-weight="bold" fill="#111" text-anchor="middle">300</text>
<text x="617.96" y="253.0" font-size="14" font-weight="bold" fill="#111" text-anchor="middle">400</text>
<text x="673.3" y="253.0" font-size="14" font-weight="bold" fill="#111" text-anchor="middle">500</text>
<text transform="translate(360.4,162.4) rotate(-90)" font-size="11.3" font-weight="bold" fill="#2b2b2b" textLength="38.8" lengthAdjust="spacingAndGlyphs">Counts</text>
<text x="513.6" y="267.6" font-size="11.5" font-weight="bold" fill="#2b2b2b" textLength="61" lengthAdjust="spacingAndGlyphs">Mass (kDa)</text>
<text x="451.8" y="74.2" font-size="15.8" font-weight="bold" fill="#2a2a2a" text-anchor="middle" textLength="40.6" lengthAdjust="spacingAndGlyphs">PvPC</text>
<text x="451.8" y="87.9" font-size="11" fill="#2a2a2a" text-anchor="middle" textLength="38" lengthAdjust="spacingAndGlyphs">81 kDa</text>
<text x="451.8" y="102.0" font-size="11" fill="#2a2a2a" text-anchor="middle" textLength="66.6" lengthAdjust="spacingAndGlyphs">(σ = 16 kDa)</text>
<text x="537.5" y="88.4" font-size="15.8" font-weight="bold" fill="#2a2a2a" textLength="51.5" lengthAdjust="spacingAndGlyphs">PvPCR</text>
<text x="537.3" y="103.5" font-size="11" fill="#2a2a2a" textLength="43.4" lengthAdjust="spacingAndGlyphs">207 kDa</text>
<text x="537.3" y="117.2" font-size="11" fill="#2a2a2a" textLength="66.6" lengthAdjust="spacingAndGlyphs">(σ = 29 kDa)</text>
<text x="547.6" y="158.1" font-size="15.8" font-weight="bold" fill="#2a2a2a" textLength="50.2" lengthAdjust="spacingAndGlyphs">PvRipr</text>
<text x="547.8" y="172.8" font-size="11" fill="#2a2a2a" textLength="42.2" lengthAdjust="spacingAndGlyphs">139 kDa</text>
<text x="547.3" y="187.3" font-size="11" fill="#2a2a2a" textLength="67" lengthAdjust="spacingAndGlyphs">(σ = 30 kDa)</text>
<line x1="439.30" y1="115.70" x2="439.30" y2="131.40" stroke="#111" stroke-width="1.0"/>
<circle cx="439.3" cy="131.4" r="1.6" fill="#111"/>
<line x1="514.30" y1="95.50" x2="531.80" y2="84.60" stroke="#111" stroke-width="1.0"/>
<circle cx="514.3" cy="95.5" r="1.6" fill="#111"/>
<line x1="486.70" y1="139.10" x2="543.50" y2="155.30" stroke="#111" stroke-width="1.0"/>
<circle cx="486.7" cy="139.1" r="1.6" fill="#111"/>
<path d="M492.50,75.50 C493.37,75.28 497.27,75.88 499.00,76.10 C500.73,76.32 502.37,76.15 502.90,76.80 C503.43,77.45 502.42,78.93 502.20,80.00 C501.98,81.07 501.17,82.02 501.60,83.20 C502.03,84.38 504.15,85.90 504.80,87.10 C505.45,88.30 505.82,89.53 505.50,90.40 C505.18,91.27 504.20,92.20 502.90,92.30 C501.60,92.40 499.22,91.65 497.70,91.00 C496.18,90.35 494.78,89.48 493.80,88.40 C492.82,87.32 492.02,85.58 491.80,84.50 C491.58,83.42 492.07,82.65 492.50,81.90 C492.93,81.15 494.18,80.75 494.40,80.00 C494.62,79.25 494.12,78.15 493.80,77.40 C493.48,76.65 491.63,75.72 492.50,75.50Z" fill="#97c39c" stroke="#333333" stroke-width="0.85" stroke-linejoin="round"/>
<path d="M490.50,68.30 C491.15,67.75 492.38,66.28 493.80,65.70 C495.22,65.12 497.60,64.80 499.00,64.80 C500.40,64.80 501.67,64.57 502.20,65.70 C502.73,66.83 502.30,70.18 502.20,71.60 C502.10,73.02 502.13,73.60 501.60,74.20 C501.07,74.80 500.73,74.98 499.00,75.20 C497.27,75.42 492.72,75.88 491.20,75.50 C489.68,75.12 490.12,73.98 489.90,72.90 C489.68,71.82 489.80,69.77 489.90,69.00 C490.00,68.23 489.85,68.85 490.50,68.30Z" fill="#97c39c" stroke="#333333" stroke-width="0.85" stroke-linejoin="round"/>
<path d="M502.20,65.10 C502.75,64.13 504.20,62.83 505.50,62.50 C506.80,62.17 508.72,62.67 510.00,63.10 C511.28,63.53 512.55,64.23 513.20,65.10 C513.85,65.97 514.00,67.33 513.90,68.30 C513.80,69.27 513.37,70.25 512.60,70.90 C511.83,71.55 510.48,71.98 509.30,72.20 C508.12,72.42 506.57,72.42 505.50,72.20 C504.43,71.98 503.45,71.55 502.90,70.90 C502.35,70.25 502.32,69.27 502.20,68.30 C502.08,67.33 501.65,66.07 502.20,65.10Z" fill="#c8abca" stroke="#333333" stroke-width="0.85" stroke-linejoin="round"/>
<ellipse cx="517.1" cy="62.8" rx="4.6" ry="2.1" transform="rotate(-55 517.1 62.8)" fill="#c8abca" stroke="#333333" stroke-width="0.8"/>
<path d="M489.3,75.2 L503.6,74.6" fill="none" stroke="#333333" stroke-width="2.0"/>
<path d="M489.3,75.2 L503.6,74.6" fill="none" stroke="#c8abca" stroke-width="1.0"/>
<path d="M630.60,118.00 C631.77,118.25 633.35,116.07 635.00,116.10 C636.65,116.13 638.45,117.17 640.50,118.20 C642.55,119.23 645.60,120.82 647.30,122.30 C649.00,123.78 650.13,125.52 650.70,127.10 C651.27,128.68 651.38,130.22 650.70,131.80 C650.02,133.38 648.30,135.45 646.60,136.60 C644.90,137.75 642.65,138.58 640.50,138.70 C638.35,138.82 635.63,138.22 633.70,137.30 C631.77,136.38 629.93,135.02 628.90,133.20 C627.87,131.38 627.68,128.37 627.50,126.40 C627.32,124.43 628.22,122.87 627.80,121.40 C627.38,119.93 625.87,118.93 625.00,117.60 C624.13,116.27 622.50,114.53 622.60,113.40 C622.70,112.27 624.70,110.60 625.60,110.80 C626.50,111.00 627.17,113.40 628.00,114.60 C628.83,115.80 629.43,117.75 630.60,118.00Z" fill="#e6e3a0" stroke="#333333" stroke-width="0.85" stroke-linejoin="round"/>
<ellipse cx="622.8" cy="106.0" rx="4.6" ry="3.1" transform="rotate(92 622.8 106.0)" fill="#e6e3a0" stroke="#333333" stroke-width="0.85"/>
<ellipse cx="625.5" cy="98.2" rx="4.8" ry="3.1" transform="rotate(119 625.5 98.2)" fill="#e6e3a0" stroke="#333333" stroke-width="0.85"/>
<ellipse cx="630.3" cy="91.8" rx="4.3" ry="3.1" transform="rotate(134 630.3 91.8)" fill="#e6e3a0" stroke="#333333" stroke-width="0.85"/>
<ellipse cx="635.4" cy="87.0" rx="4.2" ry="3.0" transform="rotate(143 635.4 87.0)" fill="#e6e3a0" stroke="#333333" stroke-width="0.85"/>
<path d="M610.50,68.00 C611.07,67.10 611.88,66.77 612.90,66.60 C613.92,66.43 615.65,66.63 616.60,67.00 C617.55,67.37 617.93,68.10 618.60,68.80 C619.27,69.50 619.83,70.43 620.60,71.20 C621.37,71.97 622.43,72.67 623.20,73.40 C623.97,74.13 624.97,74.73 625.20,75.60 C625.43,76.47 625.22,77.83 624.60,78.60 C623.98,79.37 622.83,79.93 621.50,80.20 C620.17,80.47 618.03,80.52 616.60,80.20 C615.17,79.88 613.92,79.03 612.90,78.30 C611.88,77.57 611.07,76.85 610.50,75.80 C609.93,74.75 609.50,73.30 609.50,72.00 C609.50,70.70 609.93,68.90 610.50,68.00Z" fill="#97c39c" stroke="#333333" stroke-width="0.85" stroke-linejoin="round"/>
<path d="M618.6,70.5 C620.5,72.5 621.0,74.5 623.5,75.5 M619.8,77.8 C621.5,77.0 623.0,76.5 624.5,75.8" fill="none" stroke="#333333" stroke-width="0.7"/>
<path d="M624.60,67.00 C625.07,66.22 625.98,65.23 627.00,64.80 C628.02,64.37 629.57,64.23 630.70,64.40 C631.83,64.57 632.88,65.05 633.80,65.80 C634.72,66.55 635.58,67.97 636.20,68.90 C636.82,69.83 637.60,70.58 637.50,71.40 C637.40,72.22 636.53,73.20 635.60,73.80 C634.67,74.40 633.23,74.90 631.90,75.00 C630.57,75.10 628.72,74.80 627.60,74.40 C626.48,74.00 625.77,73.42 625.20,72.60 C624.63,71.78 624.30,70.43 624.20,69.50 C624.10,68.57 624.13,67.78 624.60,67.00Z" fill="#c8abca" stroke="#333333" stroke-width="0.85" stroke-linejoin="round"/>
<path d="M634.90,65.20 C635.00,64.58 635.48,63.92 636.10,63.40 C636.72,62.88 637.57,62.42 638.60,62.10 C639.63,61.78 641.38,61.28 642.30,61.50 C643.22,61.72 643.53,62.68 644.10,63.40 C644.67,64.12 645.35,64.78 645.70,65.80 C646.05,66.82 646.15,68.27 646.20,69.50 C646.25,70.73 646.17,72.07 646.00,73.20 C645.83,74.33 645.30,75.38 645.20,76.30 C645.10,77.22 645.43,77.78 645.40,78.70 C645.37,79.62 645.32,80.87 645.00,81.80 C644.68,82.73 644.15,83.58 643.50,84.30 C642.85,85.02 642.02,85.60 641.10,86.10 C640.18,86.60 639.03,86.88 638.00,87.30 C636.97,87.72 635.82,88.08 634.90,88.60 C633.98,89.12 633.27,90.17 632.50,90.40 C631.73,90.63 630.72,90.58 630.30,90.00 C629.88,89.42 629.63,87.65 630.00,86.90 C630.37,86.15 631.58,86.03 632.50,85.50 C633.42,84.97 634.48,84.42 635.50,83.70 C636.52,82.98 637.88,82.03 638.60,81.20 C639.32,80.37 639.60,79.62 639.80,78.70 C640.00,77.78 639.90,76.62 639.80,75.70 C639.70,74.78 639.43,74.03 639.20,73.20 C638.97,72.37 638.70,71.42 638.40,70.70 C638.10,69.98 637.88,69.50 637.40,68.90 C636.92,68.30 635.92,67.72 635.50,67.10 C635.08,66.48 634.80,65.82 634.90,65.20Z" fill="#e6e3a0" stroke="#333333" stroke-width="0.85" stroke-linejoin="round"/>
<path d="M639.6,78.6 L645.3,78.6 M639.3,73.3 L646.0,73.0" fill="none" stroke="#333333" stroke-width="0.7"/>
<path d="M625.20,74.40 C625.82,74.18 627.67,75.03 628.90,75.00 C630.13,74.97 631.27,74.50 632.60,74.20 C633.93,73.90 635.88,72.97 636.90,73.20 C637.92,73.43 638.50,74.47 638.70,75.60 C638.90,76.73 638.62,78.77 638.10,80.00 C637.58,81.23 636.63,82.30 635.60,83.00 C634.57,83.70 633.12,84.10 631.90,84.20 C630.68,84.30 629.22,84.10 628.30,83.60 C627.38,83.10 626.72,82.12 626.40,81.20 C626.08,80.28 626.60,78.92 626.40,78.10 C626.20,77.28 625.40,76.92 625.20,76.30 C625.00,75.68 624.58,74.62 625.20,74.40Z" fill="#97c39c" stroke="#333333" stroke-width="0.85" stroke-linejoin="round"/>
<path d="M637.40,68.30 C637.13,67.78 636.70,66.62 636.80,65.80 C636.90,64.98 637.50,64.12 638.00,63.40 C638.50,62.68 639.18,61.95 639.80,61.50 C640.42,61.05 641.18,60.70 641.70,60.70 C642.22,60.70 642.70,60.95 642.90,61.50 C643.10,62.05 643.10,63.18 642.90,64.00 C642.70,64.82 642.22,65.68 641.70,66.40 C641.18,67.12 640.35,67.88 639.80,68.30 C639.25,68.72 638.80,68.90 638.40,68.90 C638.00,68.90 637.67,68.82 637.40,68.30Z" fill="#c8abca" stroke="#333333" stroke-width="0.85" stroke-linejoin="round"/>
<ellipse cx="645.13" cy="197.38" rx="4.0" ry="3.1" transform="rotate(-137.4 645.13 197.38)" fill="#e6e3a0" stroke="#333333" stroke-width="0.85"/>
<ellipse cx="647.99" cy="202.82" rx="4.0" ry="3.1" transform="rotate(-99.7 647.99 202.82)" fill="#e6e3a0" stroke="#333333" stroke-width="0.85"/>
<ellipse cx="647.64" cy="209.04" rx="4.0" ry="3.1" transform="rotate(-70.1 647.64 209.04)" fill="#e6e3a0" stroke="#333333" stroke-width="0.85"/>
<ellipse cx="644.44" cy="214.42" rx="4.0" ry="3.1" transform="rotate(-48.5 644.44 214.42)" fill="#e6e3a0" stroke="#333333" stroke-width="0.85"/>
<ellipse cx="639.26" cy="217.92" rx="4.0" ry="3.1" transform="rotate(-22.2 639.26 217.92)" fill="#e6e3a0" stroke="#333333" stroke-width="0.85"/>
<ellipse cx="633.12" cy="218.3" rx="4.0" ry="3.1" transform="rotate(20.1 633.12 218.3)" fill="#e6e3a0" stroke="#333333" stroke-width="0.85"/>
<ellipse cx="627.69" cy="215.14" rx="4.0" ry="3.1" transform="rotate(36.5 627.69 215.14)" fill="#e6e3a0" stroke="#333333" stroke-width="0.85"/>
<ellipse cx="623.31" cy="210.67" rx="4.0" ry="3.1" transform="rotate(53.9 623.31 210.67)" fill="#e6e3a0" stroke="#333333" stroke-width="0.85"/>
<path d="M628.80,189.10 C629.48,188.30 630.95,186.97 632.20,186.40 C633.45,185.83 634.93,185.58 636.30,185.70 C637.67,185.82 639.50,186.30 640.40,187.10 C641.30,187.90 641.33,189.32 641.70,190.50 C642.07,191.68 642.78,193.18 642.60,194.20 C642.42,195.22 641.57,196.37 640.60,196.60 C639.63,196.83 638.10,195.90 636.80,195.60 C635.50,195.30 634.00,195.23 632.80,194.80 C631.60,194.37 630.38,193.60 629.60,193.00 C628.82,192.40 628.23,191.85 628.10,191.20 C627.97,190.55 628.12,189.90 628.80,189.10Z" fill="#e6e3a0" stroke="#333333" stroke-width="0.85" stroke-linejoin="round"/>
<path d="M596.70,203.50 C596.97,202.18 597.30,200.50 598.10,199.40 C598.90,198.30 600.13,197.40 601.50,196.90 C602.87,196.40 604.60,196.33 606.30,196.40 C608.00,196.47 610.00,196.82 611.70,197.30 C613.40,197.78 615.18,198.52 616.50,199.30 C617.82,200.08 618.72,200.95 619.60,202.00 C620.48,203.05 621.13,204.50 621.80,205.60 C622.47,206.70 623.50,207.70 623.60,208.60 C623.70,209.50 623.23,210.27 622.40,211.00 C621.57,211.73 620.25,212.23 618.60,213.00 C616.95,213.77 614.55,215.10 612.50,215.60 C610.45,216.10 608.13,216.20 606.30,216.00 C604.47,215.80 602.87,215.23 601.50,214.40 C600.13,213.57 598.93,212.18 598.10,211.00 C597.27,209.82 596.73,208.55 596.50,207.30 C596.27,206.05 596.43,204.82 596.70,203.50Z" fill="#e6e3a0" stroke="#333333" stroke-width="0.85" stroke-linejoin="round"/>
</svg>
</body></html>
